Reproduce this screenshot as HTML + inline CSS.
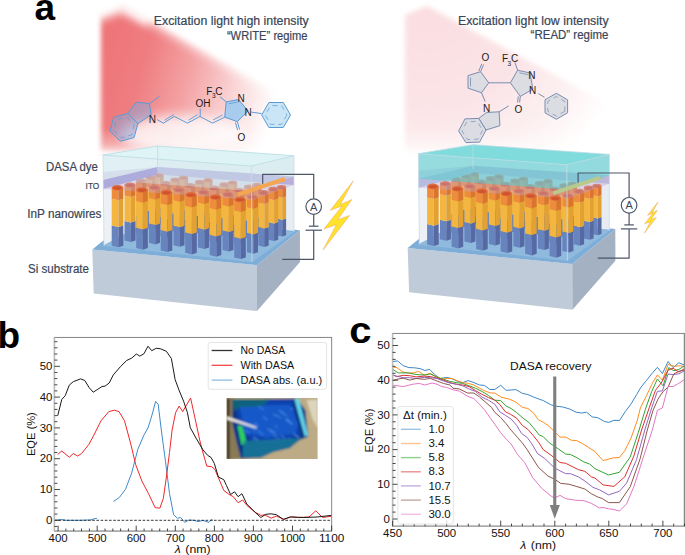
<!DOCTYPE html>
<html><head><meta charset="utf-8"><style>
html,body{margin:0;padding:0;background:#fff;width:685px;height:555px;overflow:hidden}
svg{display:block}
</style></head><body>
<svg width="685" height="555" viewBox="0 0 685 555">
<defs>
<linearGradient id="coneL" gradientUnits="userSpaceOnUse" x1="100" y1="0" x2="290" y2="57">
 <stop offset="0" stop-color="#ed7275"/>
 <stop offset="0.3" stop-color="#ef7d80"/>
 <stop offset="0.55" stop-color="#f4a4a6"/>
 <stop offset="0.8" stop-color="#fadadb"/>
 <stop offset="1" stop-color="#ffffff"/>
</linearGradient>
<radialGradient id="coneR" gradientUnits="userSpaceOnUse" cx="428" cy="0" r="220">
 <stop offset="0" stop-color="#fadde0"/>
 <stop offset="0.5" stop-color="#fbe4e7"/>
 <stop offset="0.75" stop-color="#fdf1f2"/>
 <stop offset="0.95" stop-color="#ffffff"/>
</radialGradient>
<linearGradient id="cmg" gradientUnits="userSpaceOnUse" x1="62.7" y1="139.2" x2="75.0" y2="166.5">
 <stop offset="0" stop-color="#fff"/>
 <stop offset="0.35" stop-color="#fff" stop-opacity="0.75"/>
 <stop offset="0.7" stop-color="#fff" stop-opacity="0.3"/>
 <stop offset="1" stop-color="#fff" stop-opacity="0"/>
</linearGradient>
<mask id="coneMask" maskUnits="userSpaceOnUse" x="0" y="0" width="685" height="200"><rect x="0" y="0" width="685" height="200" fill="url(#cmg)"/></mask>
<linearGradient id="cmgR" gradientUnits="userSpaceOnUse" x1="192.3" y1="139.2" x2="204.6" y2="166.5">
 <stop offset="0" stop-color="#fff"/>
 <stop offset="0.35" stop-color="#fff" stop-opacity="0.75"/>
 <stop offset="0.7" stop-color="#fff" stop-opacity="0.3"/>
 <stop offset="1" stop-color="#fff" stop-opacity="0"/>
</linearGradient>
<mask id="coneMaskR" maskUnits="userSpaceOnUse" x="0" y="0" width="685" height="200"><rect x="0" y="0" width="685" height="200" fill="url(#cmgR)"/></mask>
<filter id="blur6" filterUnits="userSpaceOnUse" x="0" y="0" width="685" height="220"><feGaussianBlur stdDeviation="6"/></filter>
<linearGradient id="bfade" x1="0" y1="0" x2="0" y2="1"><stop offset="0" stop-color="#fff" stop-opacity="0"/><stop offset="0.6" stop-color="#fff" stop-opacity="0.35"/><stop offset="1" stop-color="#fff" stop-opacity="0.8"/></linearGradient>
<filter id="blur4" filterUnits="userSpaceOnUse" x="0" y="-30" width="685" height="220"><feGaussianBlur stdDeviation="4"/></filter>
<filter id="pblur" x="-5%" y="-5%" width="110%" height="110%"><feGaussianBlur stdDeviation="0.8"/></filter>
<filter id="blur2" filterUnits="userSpaceOnUse" x="0" y="-30" width="685" height="220"><feGaussianBlur stdDeviation="2.5"/></filter>
<clipPath id="clipB"><rect x="54.4" y="337.6" width="277.3" height="193"/></clipPath>
<clipPath id="clipC"><rect x="392.6" y="333.4" width="291.8" height="192.5"/></clipPath>
</defs>
<rect width="685" height="555" fill="#fff"/>
<polygon points="101,15 124,6 310,112 305,152 101,152" fill="url(#coneL)" filter="url(#blur2)"/>
<ellipse cx="182" cy="134" rx="62" ry="19" fill="#fff" opacity="0.8" filter="url(#blur6)"/>
<polyline points="96,16 123,6 150,21" fill="none" stroke="#fff" stroke-width="12" opacity="0.85" filter="url(#blur4)"/>
<line x1="123" y1="6" x2="315" y2="115" stroke="#fff" stroke-width="8" opacity="0.6" filter="url(#blur4)"/>
<rect x="96" y="128" width="215" height="26" fill="url(#bfade)"/>
<polygon points="405,15 427,6 623,112 618,152 405,152" fill="url(#coneR)" filter="url(#blur2)"/>
<rect x="400" y="128" width="215" height="26" fill="url(#bfade)"/>
<polygon points="137.8,123.7 134.1,137.6 120.2,141.3 110.0,131.1 113.7,117.2 127.6,113.5" fill="#8fa3d2" fill-opacity="0.55" stroke="#5b9bd5" stroke-width="1"/>
<polygon points="134.3,124.6 131.5,135.0 121.1,137.8 113.5,130.2 116.3,119.8 126.7,117.0" fill="none" stroke="#5b9bd5" stroke-width="0.7" stroke-dasharray="5,4"/>
<polygon points="127.6,113.5 136.4,102.2 149.5,103.7 151.2,114.6 137.8,123.7" fill="#8fa3d2" fill-opacity="0.55" stroke="#5b9bd5" stroke-width="1"/>
<line x1="149.5" y1="103.7" x2="159.7" y2="96" stroke="#5b9bd5" stroke-width="1"/>
<polyline points="157,119.5 163.4,123.2 174.3,116.4 187.5,123.2 199.9,116.4 212.6,123.1 224.7,117.2" fill="none" stroke="#5b9bd5" stroke-width="1"/>
<line x1="164.5" y1="120.3" x2="173.6" y2="114.6" stroke="#5b9bd5" stroke-width="0.9"/>
<line x1="188.5" y1="120.3" x2="197.6" y2="114.6" stroke="#5b9bd5" stroke-width="0.9"/>
<line x1="213.0" y1="120.0" x2="222.5" y2="115.0" stroke="#5b9bd5" stroke-width="0.9"/>
<line x1="200.2" y1="116.4" x2="200.2" y2="108.5" stroke="#5b9bd5" stroke-width="1"/>
<polygon points="224.7,117.2 226.2,101.9 238.5,99.5 248.0,110.8 237.4,121.6" fill="#9fcaf0" fill-opacity="0.9" stroke="#5b9bd5" stroke-width="1"/>
<line x1="228.5" y1="103.8" x2="237.5" y2="102.0" stroke="#5b9bd5" stroke-width="0.8"/>
<line x1="226.2" y1="101.9" x2="219.9" y2="96.8" stroke="#5b9bd5" stroke-width="1"/>
<line x1="237.4" y1="121.6" x2="239.6" y2="129.5" stroke="#5b9bd5" stroke-width="1"/>
<line x1="235.4" y1="122.4" x2="237.6" y2="130.0" stroke="#5b9bd5" stroke-width="1"/>
<line x1="251.3" y1="112.1" x2="261.5" y2="113.6" stroke="#5b9bd5" stroke-width="1"/>
<polygon points="290.5,115.0 283.3,127.5 268.9,127.5 261.7,115.0 268.9,102.5 283.3,102.5" fill="#bfe0f5" fill-opacity="0.85" stroke="#5b9bd5" stroke-width="1"/>
<polygon points="286.9,115.0 281.5,124.4 270.7,124.4 265.3,115.0 270.7,105.6 281.5,105.6" fill="none" stroke="#5b9bd5" stroke-width="0.7" stroke-dasharray="5,4"/>
<text x="148.8" y="122.8" font-size="10" fill="#1a1a1a" font-family='"Liberation Sans", sans-serif'>N</text>
<text x="195.6" y="106.6" font-size="10" fill="#1a1a1a" font-family='"Liberation Sans", sans-serif'>OH</text>
<text x="206.3" y="94.6" font-size="10" fill="#1a1a1a" font-family='"Liberation Sans", sans-serif'>F</text>
<text x="211.9" y="98" font-size="6.5" fill="#1a1a1a" font-family='"Liberation Sans", sans-serif'>3</text>
<text x="215.3" y="94.6" font-size="10" fill="#1a1a1a" font-family='"Liberation Sans", sans-serif'>C</text>
<text x="237.4" y="101.5" font-size="10" fill="#1a1a1a" font-family='"Liberation Sans", sans-serif'>N</text>
<text x="244.6" y="115.8" font-size="10" fill="#1a1a1a" font-family='"Liberation Sans", sans-serif'>N</text>
<text x="237.5" y="140.8" font-size="10" fill="#1a1a1a" font-family='"Liberation Sans", sans-serif'>O</text>
<polygon points="480.6,71.7 468.0,75.6 468.0,88.2 481.5,92.7 488.7,82.8" fill="#dcdde3" stroke="#7a8db0" stroke-width="1"/>
<line x1="470.5" y1="77.5" x2="470.5" y2="86.5" stroke="#7a8db0" stroke-width="0.8"/>
<line x1="480.6" y1="71.7" x2="483.6" y2="64.5" stroke="#7a8db0" stroke-width="1"/>
<line x1="478.8" y1="71.0" x2="481.8" y2="63.8" stroke="#7a8db0" stroke-width="1"/>
<line x1="488.7" y1="82.8" x2="510.4" y2="82.8" stroke="#7a8db0" stroke-width="1"/>
<line x1="481.5" y1="92.7" x2="485.1" y2="101.5" stroke="#7a8db0" stroke-width="1"/>
<polygon points="510.4,82.8 517.6,70.2 530.0,73.0 532.9,89.1 520.3,96.4" fill="#dcdde3" stroke="#7a8db0" stroke-width="1"/>
<line x1="519.5" y1="72.8" x2="528.5" y2="74.8" stroke="#7a8db0" stroke-width="0.8"/>
<line x1="517.6" y1="70.2" x2="514.9" y2="62.5" stroke="#7a8db0" stroke-width="1"/>
<line x1="520.3" y1="96.4" x2="519.6" y2="102.5" stroke="#7a8db0" stroke-width="1"/>
<line x1="518.3" y1="96.4" x2="517.6" y2="102.5" stroke="#7a8db0" stroke-width="1"/>
<line x1="538.3" y1="93.6" x2="544.6" y2="97.3" stroke="#7a8db0" stroke-width="1"/>
<polygon points="567.6,112.8 556.3,119.3 545.0,112.8 545.0,99.8 556.3,93.3 567.6,99.8" fill="#dcdde3" stroke="#7a8db0" stroke-width="1"/>
<polygon points="564.8,111.2 556.3,116.1 547.8,111.2 547.8,101.4 556.3,96.5 564.8,101.4" fill="none" stroke="#7a8db0" stroke-width="0.7" stroke-dasharray="5,4"/>
<polygon points="486.5,112.5 499.1,111.8 499.9,125.7 486.0,130.0 478.7,118.4" fill="#dcdde3" stroke="#7a8db0" stroke-width="1"/>
<polygon points="486.0,130.0 479.6,142.1 465.9,142.6 458.6,131.0 465.0,118.9 478.7,118.4" fill="#dcdde3" stroke="#7a8db0" stroke-width="1"/>
<polygon points="482.6,130.1 477.8,139.2 467.5,139.6 462.0,130.9 466.8,121.8 477.1,121.4" fill="none" stroke="#7a8db0" stroke-width="0.7" stroke-dasharray="5,4"/>
<line x1="499.1" y1="111.8" x2="508.6" y2="106" stroke="#7a8db0" stroke-width="1"/>
<text x="481.6" y="61.3" font-size="10" fill="#1a1a1a" font-family='"Liberation Sans", sans-serif'>O</text>
<text x="502.0" y="62.0" font-size="10" fill="#1a1a1a" font-family='"Liberation Sans", sans-serif'>F</text>
<text x="507.6" y="65.5" font-size="6.5" fill="#1a1a1a" font-family='"Liberation Sans", sans-serif'>3</text>
<text x="511.0" y="62.0" font-size="10" fill="#1a1a1a" font-family='"Liberation Sans", sans-serif'>C</text>
<text x="528.2" y="78.5" font-size="10" fill="#1a1a1a" font-family='"Liberation Sans", sans-serif'>N</text>
<text x="529.0" y="93.5" font-size="10" fill="#1a1a1a" font-family='"Liberation Sans", sans-serif'>N</text>
<text x="514.5" y="112.5" font-size="10" fill="#1a1a1a" font-family='"Liberation Sans", sans-serif'>O</text>
<text x="483.0" y="112.0" font-size="10" fill="#1a1a1a" font-family='"Liberation Sans", sans-serif'>N</text>
<polygon points="92.3,249.4 256.9,265.2 257,311 93.7,293.6" fill="#bfcbd8"/>
<polygon points="256.9,265.2 299.9,230.2 300,262 257,311" fill="#a3b1c2"/>
<polygon points="92.3,249.4 136,214 299.9,230.2 256.9,265.2" fill="#7eaed8"/>
<polygon points="104,246 140,217 294,232 252,262" fill="#8fbade"/>
<polygon points="103,155 157.6,146 294,155.7 294,231 140,216 104,245" fill="#e6ecf2"/>
<polygon points="103,155 157.6,146 157.6,216 104,245" fill="#edf1f5"/>
<polygon points="157.6,167 294,176.5 294,185 157.6,174.5" fill="#a9a6da" opacity="0.85"/>
<g><polygon points="154.4,206.7 159.7,208.0 159.7,224.8 154.4,223.5" fill="#6884be"/><polygon points="159.7,208.0 163.6,206.7 163.6,223.5 159.7,224.8" fill="#5669a2"/><polygon points="154.4,184.6 159.7,185.9 159.7,208.0 154.4,206.7" fill="#f3b741"/><polygon points="159.7,185.9 163.6,184.6 163.6,206.7 159.7,208.0" fill="#e3a132"/><polygon points="154.4,175.5 159.7,176.8 159.7,185.9 154.4,184.6" fill="#ee8c3e"/><polygon points="159.7,176.8 163.6,175.5 163.6,184.6 159.7,185.9" fill="#d9752f"/><ellipse cx="159.0" cy="175.5" rx="4.6" ry="2.2" fill="#e36d3c"/><ellipse cx="159.0" cy="175.8" rx="3.3" ry="1.4" fill="#cf5530"/></g>
<g><polygon points="178.9,209.1 184.2,210.3 184.2,227.1 178.9,225.8" fill="#6884be"/><polygon points="184.2,210.3 188.1,209.1 188.1,225.8 184.2,227.1" fill="#5669a2"/><polygon points="178.9,187.0 184.2,188.3 184.2,210.3 178.9,209.1" fill="#f3b741"/><polygon points="184.2,188.3 188.1,187.0 188.1,209.1 184.2,210.3" fill="#e3a132"/><polygon points="178.9,177.8 184.2,179.1 184.2,188.3 178.9,187.0" fill="#ee8c3e"/><polygon points="184.2,179.1 188.1,177.8 188.1,187.0 184.2,188.3" fill="#d9752f"/><ellipse cx="183.5" cy="177.8" rx="4.6" ry="2.2" fill="#e36d3c"/><ellipse cx="183.5" cy="178.2" rx="3.3" ry="1.4" fill="#cf5530"/></g>
<g><polygon points="203.4,211.4 208.7,212.7 208.7,229.5 203.4,228.2" fill="#6884be"/><polygon points="208.7,212.7 212.6,211.4 212.6,228.2 208.7,229.5" fill="#5669a2"/><polygon points="203.4,189.3 208.7,190.6 208.7,212.7 203.4,211.4" fill="#f3b741"/><polygon points="208.7,190.6 212.6,189.3 212.6,211.4 208.7,212.7" fill="#e3a132"/><polygon points="203.4,180.2 208.7,181.5 208.7,190.6 203.4,189.3" fill="#ee8c3e"/><polygon points="208.7,181.5 212.6,180.2 212.6,189.3 208.7,190.6" fill="#d9752f"/><ellipse cx="208.0" cy="180.2" rx="4.6" ry="2.2" fill="#e36d3c"/><ellipse cx="208.0" cy="180.5" rx="3.3" ry="1.4" fill="#cf5530"/></g>
<g><polygon points="227.9,213.8 233.2,215.0 233.2,231.8 227.9,230.6" fill="#6884be"/><polygon points="233.2,215.0 237.1,213.8 237.1,230.6 233.2,231.8" fill="#5669a2"/><polygon points="227.9,191.7 233.2,193.0 233.2,215.0 227.9,213.8" fill="#f3b741"/><polygon points="233.2,193.0 237.1,191.7 237.1,213.8 233.2,215.0" fill="#e3a132"/><polygon points="227.9,182.6 233.2,183.8 233.2,193.0 227.9,191.7" fill="#ee8c3e"/><polygon points="233.2,183.8 237.1,182.6 237.1,191.7 233.2,193.0" fill="#d9752f"/><ellipse cx="232.5" cy="182.6" rx="4.6" ry="2.2" fill="#e36d3c"/><ellipse cx="232.5" cy="182.9" rx="3.3" ry="1.4" fill="#cf5530"/></g>
<g><polygon points="252.4,216.1 257.7,217.4 257.7,234.2 252.4,232.9" fill="#6884be"/><polygon points="257.7,217.4 261.6,216.1 261.6,232.9 257.7,234.2" fill="#5669a2"/><polygon points="252.4,194.0 257.7,195.3 257.7,217.4 252.4,216.1" fill="#f3b741"/><polygon points="257.7,195.3 261.6,194.0 261.6,216.1 257.7,217.4" fill="#e3a132"/><polygon points="252.4,184.9 257.7,186.2 257.7,195.3 252.4,194.0" fill="#ee8c3e"/><polygon points="257.7,186.2 261.6,184.9 261.6,194.0 257.7,195.3" fill="#d9752f"/><ellipse cx="257.0" cy="184.9" rx="4.6" ry="2.2" fill="#e36d3c"/><ellipse cx="257.0" cy="185.2" rx="3.3" ry="1.4" fill="#cf5530"/></g>
<g><polygon points="276.9,218.4 282.2,219.7 282.2,236.5 276.9,235.2" fill="#6884be"/><polygon points="282.2,219.7 286.1,218.4 286.1,235.2 282.2,236.5" fill="#5669a2"/><polygon points="276.9,196.4 282.2,197.7 282.2,219.7 276.9,218.4" fill="#f3b741"/><polygon points="282.2,197.7 286.1,196.4 286.1,218.4 282.2,219.7" fill="#e3a132"/><polygon points="276.9,187.2 282.2,188.5 282.2,197.7 276.9,196.4" fill="#ee8c3e"/><polygon points="282.2,188.5 286.1,187.2 286.1,196.4 282.2,197.7" fill="#d9752f"/><ellipse cx="281.5" cy="187.2" rx="4.6" ry="2.2" fill="#e36d3c"/><ellipse cx="281.5" cy="187.6" rx="3.3" ry="1.4" fill="#cf5530"/></g>
<g><polygon points="145.9,210.3 151.6,211.7 151.6,229.4 145.9,228.0" fill="#6884be"/><polygon points="151.6,211.7 155.7,210.3 155.7,228.0 151.6,229.4" fill="#5669a2"/><polygon points="145.9,187.1 151.6,188.5 151.6,211.7 145.9,210.3" fill="#f3b741"/><polygon points="151.6,188.5 155.7,187.1 155.7,210.3 151.6,211.7" fill="#e3a132"/><polygon points="145.9,177.5 151.6,178.9 151.6,188.5 145.9,187.1" fill="#ee8c3e"/><polygon points="151.6,178.9 155.7,177.5 155.7,187.1 151.6,188.5" fill="#d9752f"/><ellipse cx="150.8" cy="177.5" rx="4.9" ry="2.4" fill="#e36d3c"/><ellipse cx="150.8" cy="177.8" rx="3.5" ry="1.5" fill="#cf5530"/></g>
<g><polygon points="170.4,212.7 176.1,214.0 176.1,231.7 170.4,230.3" fill="#6884be"/><polygon points="176.1,214.0 180.2,212.7 180.2,230.3 176.1,231.7" fill="#5669a2"/><polygon points="170.4,189.4 176.1,190.8 176.1,214.0 170.4,212.7" fill="#f3b741"/><polygon points="176.1,190.8 180.2,189.4 180.2,212.7 176.1,214.0" fill="#e3a132"/><polygon points="170.4,179.8 176.1,181.2 176.1,190.8 170.4,189.4" fill="#ee8c3e"/><polygon points="176.1,181.2 180.2,179.8 180.2,189.4 176.1,190.8" fill="#d9752f"/><ellipse cx="175.3" cy="179.8" rx="4.9" ry="2.4" fill="#e36d3c"/><ellipse cx="175.3" cy="180.2" rx="3.5" ry="1.5" fill="#cf5530"/></g>
<g><polygon points="194.9,215.0 200.6,216.4 200.6,234.1 194.9,232.7" fill="#6884be"/><polygon points="200.6,216.4 204.7,215.0 204.7,232.7 200.6,234.1" fill="#5669a2"/><polygon points="194.9,191.8 200.6,193.2 200.6,216.4 194.9,215.0" fill="#f3b741"/><polygon points="200.6,193.2 204.7,191.8 204.7,215.0 200.6,216.4" fill="#e3a132"/><polygon points="194.9,182.2 200.6,183.6 200.6,193.2 194.9,191.8" fill="#ee8c3e"/><polygon points="200.6,183.6 204.7,182.2 204.7,191.8 200.6,193.2" fill="#d9752f"/><ellipse cx="199.8" cy="182.2" rx="4.9" ry="2.4" fill="#e36d3c"/><ellipse cx="199.8" cy="182.5" rx="3.5" ry="1.5" fill="#cf5530"/></g>
<g><polygon points="219.4,217.4 225.1,218.7 225.1,236.4 219.4,235.1" fill="#6884be"/><polygon points="225.1,218.7 229.2,217.4 229.2,235.1 225.1,236.4" fill="#5669a2"/><polygon points="219.4,194.1 225.1,195.5 225.1,218.7 219.4,217.4" fill="#f3b741"/><polygon points="225.1,195.5 229.2,194.1 229.2,217.4 225.1,218.7" fill="#e3a132"/><polygon points="219.4,184.6 225.1,185.9 225.1,195.5 219.4,194.1" fill="#ee8c3e"/><polygon points="225.1,185.9 229.2,184.6 229.2,194.1 225.1,195.5" fill="#d9752f"/><ellipse cx="224.3" cy="184.6" rx="4.9" ry="2.4" fill="#e36d3c"/><ellipse cx="224.3" cy="184.9" rx="3.5" ry="1.5" fill="#cf5530"/></g>
<g><polygon points="243.9,219.7 249.6,221.1 249.6,238.8 243.9,237.4" fill="#6884be"/><polygon points="249.6,221.1 253.7,219.7 253.7,237.4 249.6,238.8" fill="#5669a2"/><polygon points="243.9,196.5 249.6,197.9 249.6,221.1 243.9,219.7" fill="#f3b741"/><polygon points="249.6,197.9 253.7,196.5 253.7,219.7 249.6,221.1" fill="#e3a132"/><polygon points="243.9,186.9 249.6,188.3 249.6,197.9 243.9,196.5" fill="#ee8c3e"/><polygon points="249.6,188.3 253.7,186.9 253.7,196.5 249.6,197.9" fill="#d9752f"/><ellipse cx="248.8" cy="186.9" rx="4.9" ry="2.4" fill="#e36d3c"/><ellipse cx="248.8" cy="187.2" rx="3.5" ry="1.5" fill="#cf5530"/></g>
<g><polygon points="268.4,222.1 274.1,223.4 274.1,241.1 268.4,239.8" fill="#6884be"/><polygon points="274.1,223.4 278.2,222.1 278.2,239.8 274.1,241.1" fill="#5669a2"/><polygon points="268.4,198.8 274.1,200.2 274.1,223.4 268.4,222.1" fill="#f3b741"/><polygon points="274.1,200.2 278.2,198.8 278.2,222.1 274.1,223.4" fill="#e3a132"/><polygon points="268.4,189.2 274.1,190.6 274.1,200.2 268.4,198.8" fill="#ee8c3e"/><polygon points="274.1,190.6 278.2,189.2 278.2,198.8 274.1,200.2" fill="#d9752f"/><ellipse cx="273.3" cy="189.2" rx="4.9" ry="2.4" fill="#e36d3c"/><ellipse cx="273.3" cy="189.6" rx="3.5" ry="1.5" fill="#cf5530"/></g>
<g><polygon points="135.8,215.2 141.8,216.7 141.8,235.3 135.8,233.8" fill="#6884be"/><polygon points="141.8,216.7 146.2,215.2 146.2,233.8 141.8,235.3" fill="#5669a2"/><polygon points="135.8,190.9 141.8,192.3 141.8,216.7 135.8,215.2" fill="#f3b741"/><polygon points="141.8,192.3 146.2,190.9 146.2,215.2 141.8,216.7" fill="#e3a132"/><polygon points="135.8,180.8 141.8,182.3 141.8,192.3 135.8,190.9" fill="#ee8c3e"/><polygon points="141.8,182.3 146.2,180.8 146.2,190.9 141.8,192.3" fill="#d9752f"/><ellipse cx="141.0" cy="180.8" rx="5.2" ry="2.5" fill="#e36d3c"/><ellipse cx="141.0" cy="181.1" rx="3.7" ry="1.6" fill="#cf5530"/></g>
<g><polygon points="160.3,217.6 166.3,219.1 166.3,237.6 160.3,236.2" fill="#6884be"/><polygon points="166.3,219.1 170.7,217.6 170.7,236.2 166.3,237.6" fill="#5669a2"/><polygon points="160.3,193.2 166.3,194.7 166.3,219.1 160.3,217.6" fill="#f3b741"/><polygon points="166.3,194.7 170.7,193.2 170.7,217.6 166.3,219.1" fill="#e3a132"/><polygon points="160.3,183.2 166.3,184.6 166.3,194.7 160.3,193.2" fill="#ee8c3e"/><polygon points="166.3,184.6 170.7,183.2 170.7,193.2 166.3,194.7" fill="#d9752f"/><ellipse cx="165.5" cy="183.2" rx="5.2" ry="2.5" fill="#e36d3c"/><ellipse cx="165.5" cy="183.5" rx="3.7" ry="1.6" fill="#cf5530"/></g>
<g><polygon points="184.8,219.9 190.8,221.4 190.8,240.0 184.8,238.5" fill="#6884be"/><polygon points="190.8,221.4 195.2,219.9 195.2,238.5 190.8,240.0" fill="#5669a2"/><polygon points="184.8,195.6 190.8,197.0 190.8,221.4 184.8,219.9" fill="#f3b741"/><polygon points="190.8,197.0 195.2,195.6 195.2,219.9 190.8,221.4" fill="#e3a132"/><polygon points="184.8,185.5 190.8,187.0 190.8,197.0 184.8,195.6" fill="#ee8c3e"/><polygon points="190.8,187.0 195.2,185.5 195.2,195.6 190.8,197.0" fill="#d9752f"/><ellipse cx="190.0" cy="185.5" rx="5.2" ry="2.5" fill="#e36d3c"/><ellipse cx="190.0" cy="185.8" rx="3.7" ry="1.6" fill="#cf5530"/></g>
<g><polygon points="209.3,222.3 215.3,223.8 215.3,242.3 209.3,240.9" fill="#6884be"/><polygon points="215.3,223.8 219.7,222.3 219.7,240.9 215.3,242.3" fill="#5669a2"/><polygon points="209.3,197.9 215.3,199.4 215.3,223.8 209.3,222.3" fill="#f3b741"/><polygon points="215.3,199.4 219.7,197.9 219.7,222.3 215.3,223.8" fill="#e3a132"/><polygon points="209.3,187.9 215.3,189.3 215.3,199.4 209.3,197.9" fill="#ee8c3e"/><polygon points="215.3,189.3 219.7,187.9 219.7,197.9 215.3,199.4" fill="#d9752f"/><ellipse cx="214.5" cy="187.9" rx="5.2" ry="2.5" fill="#e36d3c"/><ellipse cx="214.5" cy="188.2" rx="3.7" ry="1.6" fill="#cf5530"/></g>
<g><polygon points="233.8,224.7 239.8,226.1 239.8,244.7 233.8,243.2" fill="#6884be"/><polygon points="239.8,226.1 244.2,224.7 244.2,243.2 239.8,244.7" fill="#5669a2"/><polygon points="233.8,200.3 239.8,201.7 239.8,226.1 233.8,224.7" fill="#f3b741"/><polygon points="239.8,201.7 244.2,200.3 244.2,224.7 239.8,226.1" fill="#e3a132"/><polygon points="233.8,190.2 239.8,191.7 239.8,201.7 233.8,200.3" fill="#ee8c3e"/><polygon points="239.8,191.7 244.2,190.2 244.2,200.3 239.8,201.7" fill="#d9752f"/><ellipse cx="239.0" cy="190.2" rx="5.2" ry="2.5" fill="#e36d3c"/><ellipse cx="239.0" cy="190.5" rx="3.7" ry="1.6" fill="#cf5530"/></g>
<g><polygon points="258.3,227.0 264.3,228.5 264.3,247.0 258.3,245.6" fill="#6884be"/><polygon points="264.3,228.5 268.7,227.0 268.7,245.6 264.3,247.0" fill="#5669a2"/><polygon points="258.3,202.6 264.3,204.1 264.3,228.5 258.3,227.0" fill="#f3b741"/><polygon points="264.3,204.1 268.7,202.6 268.7,227.0 264.3,228.5" fill="#e3a132"/><polygon points="258.3,192.6 264.3,194.0 264.3,204.1 258.3,202.6" fill="#ee8c3e"/><polygon points="264.3,194.0 268.7,192.6 268.7,202.6 264.3,204.1" fill="#d9752f"/><ellipse cx="263.5" cy="192.6" rx="5.2" ry="2.5" fill="#e36d3c"/><ellipse cx="263.5" cy="192.9" rx="3.7" ry="1.6" fill="#cf5530"/></g>
<g><polygon points="124.5,221.1 130.9,222.6 130.9,242.0 124.5,240.5" fill="#6884be"/><polygon points="130.9,222.6 135.5,221.1 135.5,240.5 130.9,242.0" fill="#5669a2"/><polygon points="124.5,195.5 130.9,197.1 130.9,222.6 124.5,221.1" fill="#f3b741"/><polygon points="130.9,197.1 135.5,195.5 135.5,221.1 130.9,222.6" fill="#e3a132"/><polygon points="124.5,185.0 130.9,186.5 130.9,197.1 124.5,195.5" fill="#ee8c3e"/><polygon points="130.9,186.5 135.5,185.0 135.5,195.5 130.9,197.1" fill="#d9752f"/><ellipse cx="130.0" cy="185.0" rx="5.5" ry="2.6" fill="#e36d3c"/><ellipse cx="130.0" cy="185.3" rx="4.0" ry="1.6" fill="#cf5530"/></g>
<g><polygon points="149.0,223.4 155.4,225.0 155.4,244.4 149.0,242.8" fill="#6884be"/><polygon points="155.4,225.0 160.0,223.4 160.0,242.8 155.4,244.4" fill="#5669a2"/><polygon points="149.0,197.9 155.4,199.4 155.4,225.0 149.0,223.4" fill="#f3b741"/><polygon points="155.4,199.4 160.0,197.9 160.0,223.4 155.4,225.0" fill="#e3a132"/><polygon points="149.0,187.3 155.4,188.9 155.4,199.4 149.0,197.9" fill="#ee8c3e"/><polygon points="155.4,188.9 160.0,187.3 160.0,197.9 155.4,199.4" fill="#d9752f"/><ellipse cx="154.5" cy="187.3" rx="5.5" ry="2.6" fill="#e36d3c"/><ellipse cx="154.5" cy="187.7" rx="4.0" ry="1.6" fill="#cf5530"/></g>
<g><polygon points="173.5,225.8 179.9,227.3 179.9,246.7 173.5,245.2" fill="#6884be"/><polygon points="179.9,227.3 184.5,225.8 184.5,245.2 179.9,246.7" fill="#5669a2"/><polygon points="173.5,200.2 179.9,201.8 179.9,227.3 173.5,225.8" fill="#f3b741"/><polygon points="179.9,201.8 184.5,200.2 184.5,225.8 179.9,227.3" fill="#e3a132"/><polygon points="173.5,189.7 179.9,191.2 179.9,201.8 173.5,200.2" fill="#ee8c3e"/><polygon points="179.9,191.2 184.5,189.7 184.5,200.2 179.9,201.8" fill="#d9752f"/><ellipse cx="179.0" cy="189.7" rx="5.5" ry="2.6" fill="#e36d3c"/><ellipse cx="179.0" cy="190.0" rx="4.0" ry="1.6" fill="#cf5530"/></g>
<g><polygon points="198.0,228.1 204.4,229.7 204.4,249.1 198.0,247.6" fill="#6884be"/><polygon points="204.4,229.7 209.0,228.1 209.0,247.6 204.4,249.1" fill="#5669a2"/><polygon points="198.0,202.6 204.4,204.1 204.4,229.7 198.0,228.1" fill="#f3b741"/><polygon points="204.4,204.1 209.0,202.6 209.0,228.1 204.4,229.7" fill="#e3a132"/><polygon points="198.0,192.1 204.4,193.6 204.4,204.1 198.0,202.6" fill="#ee8c3e"/><polygon points="204.4,193.6 209.0,192.1 209.0,202.6 204.4,204.1" fill="#d9752f"/><ellipse cx="203.5" cy="192.1" rx="5.5" ry="2.6" fill="#e36d3c"/><ellipse cx="203.5" cy="192.4" rx="4.0" ry="1.6" fill="#cf5530"/></g>
<g><polygon points="222.5,230.5 228.9,232.0 228.9,251.4 222.5,249.9" fill="#6884be"/><polygon points="228.9,232.0 233.5,230.5 233.5,249.9 228.9,251.4" fill="#5669a2"/><polygon points="222.5,204.9 228.9,206.5 228.9,232.0 222.5,230.5" fill="#f3b741"/><polygon points="228.9,206.5 233.5,204.9 233.5,230.5 228.9,232.0" fill="#e3a132"/><polygon points="222.5,194.4 228.9,195.9 228.9,206.5 222.5,204.9" fill="#ee8c3e"/><polygon points="228.9,195.9 233.5,194.4 233.5,204.9 228.9,206.5" fill="#d9752f"/><ellipse cx="228.0" cy="194.4" rx="5.5" ry="2.6" fill="#e36d3c"/><ellipse cx="228.0" cy="194.7" rx="4.0" ry="1.6" fill="#cf5530"/></g>
<g><polygon points="247.0,232.8 253.4,234.4 253.4,253.8 247.0,252.2" fill="#6884be"/><polygon points="253.4,234.4 258.0,232.8 258.0,252.2 253.4,253.8" fill="#5669a2"/><polygon points="247.0,207.3 253.4,208.8 253.4,234.4 247.0,232.8" fill="#f3b741"/><polygon points="253.4,208.8 258.0,207.3 258.0,232.8 253.4,234.4" fill="#e3a132"/><polygon points="247.0,196.8 253.4,198.3 253.4,208.8 247.0,207.3" fill="#ee8c3e"/><polygon points="253.4,198.3 258.0,196.8 258.0,207.3 253.4,208.8" fill="#d9752f"/><ellipse cx="252.5" cy="196.8" rx="5.5" ry="2.6" fill="#e36d3c"/><ellipse cx="252.5" cy="197.1" rx="4.0" ry="1.6" fill="#cf5530"/></g>
<polygon points="103,172 157.6,167 294,176.5 294,185 252,200 103,189" fill="#c2a8d2" opacity="0.38"/>
<polygon points="103,155 251.4,166 252,191 103,180" fill="#cdf0f3" opacity="0.4"/>
<polygon points="251.4,166 294,155.7 294,176.5 252,191" fill="#cdf0f3" opacity="0.4"/>
<polygon points="103,180 157.6,167 157.6,174.5 103,189" fill="#a9a6da" opacity="0.9"/>
<g><polygon points="111.7,225.4 118.4,227.0 118.4,247.3 111.7,245.7" fill="#6884be"/><polygon points="118.4,227.0 123.3,225.4 123.3,245.7 118.4,247.3" fill="#5669a2"/><polygon points="111.7,198.7 118.4,200.3 118.4,227.0 111.7,225.4" fill="#f3b741"/><polygon points="118.4,200.3 123.3,198.7 123.3,225.4 118.4,227.0" fill="#e3a132"/><polygon points="111.7,187.7 118.4,189.3 118.4,200.3 111.7,198.7" fill="#ee8c3e"/><polygon points="118.4,189.3 123.3,187.7 123.3,198.7 118.4,200.3" fill="#d9752f"/><ellipse cx="117.5" cy="187.7" rx="5.8" ry="2.8" fill="#e36d3c"/><ellipse cx="117.5" cy="188.0" rx="4.2" ry="1.7" fill="#cf5530"/></g>
<g><polygon points="136.2,227.8 142.9,229.4 142.9,249.7 136.2,248.0" fill="#6884be"/><polygon points="142.9,229.4 147.8,227.8 147.8,248.0 142.9,249.7" fill="#5669a2"/><polygon points="136.2,201.1 142.9,202.7 142.9,229.4 136.2,227.8" fill="#f3b741"/><polygon points="142.9,202.7 147.8,201.1 147.8,227.8 142.9,229.4" fill="#e3a132"/><polygon points="136.2,190.0 142.9,191.7 142.9,202.7 136.2,201.1" fill="#ee8c3e"/><polygon points="142.9,191.7 147.8,190.0 147.8,201.1 142.9,202.7" fill="#d9752f"/><ellipse cx="142.0" cy="190.0" rx="5.8" ry="2.8" fill="#e36d3c"/><ellipse cx="142.0" cy="190.3" rx="4.2" ry="1.7" fill="#cf5530"/></g>
<g><polygon points="160.7,230.1 167.4,231.7 167.4,252.0 160.7,250.4" fill="#6884be"/><polygon points="167.4,231.7 172.3,230.1 172.3,250.4 167.4,252.0" fill="#5669a2"/><polygon points="160.7,203.4 167.4,205.0 167.4,231.7 160.7,230.1" fill="#f3b741"/><polygon points="167.4,205.0 172.3,203.4 172.3,230.1 167.4,231.7" fill="#e3a132"/><polygon points="160.7,192.4 167.4,194.0 167.4,205.0 160.7,203.4" fill="#ee8c3e"/><polygon points="167.4,194.0 172.3,192.4 172.3,203.4 167.4,205.0" fill="#d9752f"/><ellipse cx="166.5" cy="192.4" rx="5.8" ry="2.8" fill="#e36d3c"/><ellipse cx="166.5" cy="192.7" rx="4.2" ry="1.7" fill="#cf5530"/></g>
<g><polygon points="185.2,232.4 191.9,234.1 191.9,254.4 185.2,252.8" fill="#6884be"/><polygon points="191.9,234.1 196.8,232.4 196.8,252.8 191.9,254.4" fill="#5669a2"/><polygon points="185.2,205.8 191.9,207.4 191.9,234.1 185.2,232.4" fill="#f3b741"/><polygon points="191.9,207.4 196.8,205.8 196.8,232.4 191.9,234.1" fill="#e3a132"/><polygon points="185.2,194.8 191.9,196.4 191.9,207.4 185.2,205.8" fill="#ee8c3e"/><polygon points="191.9,196.4 196.8,194.8 196.8,205.8 191.9,207.4" fill="#d9752f"/><ellipse cx="191.0" cy="194.8" rx="5.8" ry="2.8" fill="#e36d3c"/><ellipse cx="191.0" cy="195.1" rx="4.2" ry="1.7" fill="#cf5530"/></g>
<g><polygon points="209.7,234.8 216.4,236.4 216.4,256.7 209.7,255.1" fill="#6884be"/><polygon points="216.4,236.4 221.3,234.8 221.3,255.1 216.4,256.7" fill="#5669a2"/><polygon points="209.7,208.1 216.4,209.7 216.4,236.4 209.7,234.8" fill="#f3b741"/><polygon points="216.4,209.7 221.3,208.1 221.3,234.8 216.4,236.4" fill="#e3a132"/><polygon points="209.7,197.1 216.4,198.7 216.4,209.7 209.7,208.1" fill="#ee8c3e"/><polygon points="216.4,198.7 221.3,197.1 221.3,208.1 216.4,209.7" fill="#d9752f"/><ellipse cx="215.5" cy="197.1" rx="5.8" ry="2.8" fill="#e36d3c"/><ellipse cx="215.5" cy="197.4" rx="4.2" ry="1.7" fill="#cf5530"/></g>
<g><polygon points="234.2,237.1 240.9,238.8 240.9,259.1 234.2,257.4" fill="#6884be"/><polygon points="240.9,238.8 245.8,237.1 245.8,257.4 240.9,259.1" fill="#5669a2"/><polygon points="234.2,210.5 240.9,212.1 240.9,238.8 234.2,237.1" fill="#f3b741"/><polygon points="240.9,212.1 245.8,210.5 245.8,237.1 240.9,238.8" fill="#e3a132"/><polygon points="234.2,199.4 240.9,201.1 240.9,212.1 234.2,210.5" fill="#ee8c3e"/><polygon points="240.9,201.1 245.8,199.4 245.8,210.5 240.9,212.1" fill="#d9752f"/><ellipse cx="240.0" cy="199.4" rx="5.8" ry="2.8" fill="#e36d3c"/><ellipse cx="240.0" cy="199.8" rx="4.2" ry="1.7" fill="#cf5530"/></g>
<polygon points="103,155 157.6,146 294,155.7 251.4,166" fill="#dcf4f6" opacity="0.9"/>
<polyline points="103,155 157.6,146 294,155.7 251.4,166 103,155" fill="none" stroke="#b9dce3" stroke-width="0.8"/>
<line x1="157.6" y1="146" x2="157.6" y2="170" stroke="#b9dce3" stroke-width="0.8"/>
<line x1="251.4" y1="166" x2="252" y2="262" stroke="#c8dde6" stroke-width="0.8"/>
<line x1="103" y1="155" x2="104" y2="246" stroke="#c8dde6" stroke-width="0.8"/>
<line x1="294" y1="155.7" x2="294" y2="232" stroke="#c8dde6" stroke-width="0.8"/>
<line x1="238" y1="194.5" x2="285" y2="179" stroke="#f4a650" stroke-width="4" stroke-linecap="butt"/>
<polyline points="262.7,184 262.7,174.3 313.7,174.3 313.7,198.8" fill="none" stroke="#4d5566" stroke-width="1.2"/>
<circle cx="313.7" cy="206.6" r="7.8" fill="#fff" stroke="#4d5566" stroke-width="1.2"/>
<text x="313.7" y="210.6" font-size="11" text-anchor="middle" fill="#3d4759" font-family='"Liberation Sans", sans-serif'>A</text>
<line x1="313.7" y1="214.4" x2="313.7" y2="226.2" stroke="#4d5566" stroke-width="1.2"/>
<line x1="308.9" y1="226.2" x2="318.5" y2="226.2" stroke="#4d5566" stroke-width="1.2"/>
<line x1="305.5" y1="230.2" x2="321.9" y2="230.2" stroke="#4d5566" stroke-width="1.2"/>
<polyline points="313.7,230.2 313.7,259.4 282.3,259.4" fill="none" stroke="#4d5566" stroke-width="1.2"/>
<g transform="translate(-0.6,-1.3)"><polygon points="408.3,249.4 572.9,265.2 573,311 409.7,293.6" fill="#bfcbd8"/>
<polygon points="572.9,265.2 615.9,230.2 616,262 573,311" fill="#a3b1c2"/>
<polygon points="408.3,249.4 452,214 615.9,230.2 572.9,265.2" fill="#7eaed8"/>
<polygon points="420,246 456,217 610,232 568,262" fill="#8fbade"/>
<polygon points="419,155 473.6,146 610,155.7 610,231 456,216 420,245" fill="#e6ecf2"/>
<polygon points="419,155 473.6,146 473.6,216 420,245" fill="#edf1f5"/>
<polygon points="473.6,167 610,176.5 610,185 473.6,174.5" fill="#b3b8dd" opacity="0.85"/>
<g><polygon points="470.4,206.7 475.7,208.0 475.7,224.8 470.4,223.5" fill="#6884be"/><polygon points="475.7,208.0 479.6,206.7 479.6,223.5 475.7,224.8" fill="#5669a2"/><polygon points="470.4,184.6 475.7,185.9 475.7,208.0 470.4,206.7" fill="#f3b741"/><polygon points="475.7,185.9 479.6,184.6 479.6,206.7 475.7,208.0" fill="#e3a132"/><polygon points="470.4,175.5 475.7,176.8 475.7,185.9 470.4,184.6" fill="#ee8c3e"/><polygon points="475.7,176.8 479.6,175.5 479.6,184.6 475.7,185.9" fill="#d9752f"/><ellipse cx="475.0" cy="175.5" rx="4.6" ry="2.2" fill="#e36d3c"/><ellipse cx="475.0" cy="175.8" rx="3.3" ry="1.4" fill="#cf5530"/></g>
<g><polygon points="494.9,209.1 500.2,210.3 500.2,227.1 494.9,225.8" fill="#6884be"/><polygon points="500.2,210.3 504.1,209.1 504.1,225.8 500.2,227.1" fill="#5669a2"/><polygon points="494.9,187.0 500.2,188.3 500.2,210.3 494.9,209.1" fill="#f3b741"/><polygon points="500.2,188.3 504.1,187.0 504.1,209.1 500.2,210.3" fill="#e3a132"/><polygon points="494.9,177.8 500.2,179.1 500.2,188.3 494.9,187.0" fill="#ee8c3e"/><polygon points="500.2,179.1 504.1,177.8 504.1,187.0 500.2,188.3" fill="#d9752f"/><ellipse cx="499.5" cy="177.8" rx="4.6" ry="2.2" fill="#e36d3c"/><ellipse cx="499.5" cy="178.2" rx="3.3" ry="1.4" fill="#cf5530"/></g>
<g><polygon points="519.4,211.4 524.7,212.7 524.7,229.5 519.4,228.2" fill="#6884be"/><polygon points="524.7,212.7 528.6,211.4 528.6,228.2 524.7,229.5" fill="#5669a2"/><polygon points="519.4,189.3 524.7,190.6 524.7,212.7 519.4,211.4" fill="#f3b741"/><polygon points="524.7,190.6 528.6,189.3 528.6,211.4 524.7,212.7" fill="#e3a132"/><polygon points="519.4,180.2 524.7,181.5 524.7,190.6 519.4,189.3" fill="#ee8c3e"/><polygon points="524.7,181.5 528.6,180.2 528.6,189.3 524.7,190.6" fill="#d9752f"/><ellipse cx="524.0" cy="180.2" rx="4.6" ry="2.2" fill="#e36d3c"/><ellipse cx="524.0" cy="180.5" rx="3.3" ry="1.4" fill="#cf5530"/></g>
<g><polygon points="543.9,213.8 549.2,215.0 549.2,231.8 543.9,230.6" fill="#6884be"/><polygon points="549.2,215.0 553.1,213.8 553.1,230.6 549.2,231.8" fill="#5669a2"/><polygon points="543.9,191.7 549.2,193.0 549.2,215.0 543.9,213.8" fill="#f3b741"/><polygon points="549.2,193.0 553.1,191.7 553.1,213.8 549.2,215.0" fill="#e3a132"/><polygon points="543.9,182.6 549.2,183.8 549.2,193.0 543.9,191.7" fill="#ee8c3e"/><polygon points="549.2,183.8 553.1,182.6 553.1,191.7 549.2,193.0" fill="#d9752f"/><ellipse cx="548.5" cy="182.6" rx="4.6" ry="2.2" fill="#e36d3c"/><ellipse cx="548.5" cy="182.9" rx="3.3" ry="1.4" fill="#cf5530"/></g>
<g><polygon points="568.4,216.1 573.7,217.4 573.7,234.2 568.4,232.9" fill="#6884be"/><polygon points="573.7,217.4 577.6,216.1 577.6,232.9 573.7,234.2" fill="#5669a2"/><polygon points="568.4,194.0 573.7,195.3 573.7,217.4 568.4,216.1" fill="#f3b741"/><polygon points="573.7,195.3 577.6,194.0 577.6,216.1 573.7,217.4" fill="#e3a132"/><polygon points="568.4,184.9 573.7,186.2 573.7,195.3 568.4,194.0" fill="#ee8c3e"/><polygon points="573.7,186.2 577.6,184.9 577.6,194.0 573.7,195.3" fill="#d9752f"/><ellipse cx="573.0" cy="184.9" rx="4.6" ry="2.2" fill="#e36d3c"/><ellipse cx="573.0" cy="185.2" rx="3.3" ry="1.4" fill="#cf5530"/></g>
<g><polygon points="592.9,218.4 598.2,219.7 598.2,236.5 592.9,235.2" fill="#6884be"/><polygon points="598.2,219.7 602.1,218.4 602.1,235.2 598.2,236.5" fill="#5669a2"/><polygon points="592.9,196.4 598.2,197.7 598.2,219.7 592.9,218.4" fill="#f3b741"/><polygon points="598.2,197.7 602.1,196.4 602.1,218.4 598.2,219.7" fill="#e3a132"/><polygon points="592.9,187.2 598.2,188.5 598.2,197.7 592.9,196.4" fill="#ee8c3e"/><polygon points="598.2,188.5 602.1,187.2 602.1,196.4 598.2,197.7" fill="#d9752f"/><ellipse cx="597.5" cy="187.2" rx="4.6" ry="2.2" fill="#e36d3c"/><ellipse cx="597.5" cy="187.6" rx="3.3" ry="1.4" fill="#cf5530"/></g>
<g><polygon points="461.9,210.3 467.6,211.7 467.6,229.4 461.9,228.0" fill="#6884be"/><polygon points="467.6,211.7 471.7,210.3 471.7,228.0 467.6,229.4" fill="#5669a2"/><polygon points="461.9,187.1 467.6,188.5 467.6,211.7 461.9,210.3" fill="#f3b741"/><polygon points="467.6,188.5 471.7,187.1 471.7,210.3 467.6,211.7" fill="#e3a132"/><polygon points="461.9,177.5 467.6,178.9 467.6,188.5 461.9,187.1" fill="#ee8c3e"/><polygon points="467.6,178.9 471.7,177.5 471.7,187.1 467.6,188.5" fill="#d9752f"/><ellipse cx="466.8" cy="177.5" rx="4.9" ry="2.4" fill="#e36d3c"/><ellipse cx="466.8" cy="177.8" rx="3.5" ry="1.5" fill="#cf5530"/></g>
<g><polygon points="486.4,212.7 492.1,214.0 492.1,231.7 486.4,230.3" fill="#6884be"/><polygon points="492.1,214.0 496.2,212.7 496.2,230.3 492.1,231.7" fill="#5669a2"/><polygon points="486.4,189.4 492.1,190.8 492.1,214.0 486.4,212.7" fill="#f3b741"/><polygon points="492.1,190.8 496.2,189.4 496.2,212.7 492.1,214.0" fill="#e3a132"/><polygon points="486.4,179.8 492.1,181.2 492.1,190.8 486.4,189.4" fill="#ee8c3e"/><polygon points="492.1,181.2 496.2,179.8 496.2,189.4 492.1,190.8" fill="#d9752f"/><ellipse cx="491.3" cy="179.8" rx="4.9" ry="2.4" fill="#e36d3c"/><ellipse cx="491.3" cy="180.2" rx="3.5" ry="1.5" fill="#cf5530"/></g>
<g><polygon points="510.9,215.0 516.6,216.4 516.6,234.1 510.9,232.7" fill="#6884be"/><polygon points="516.6,216.4 520.7,215.0 520.7,232.7 516.6,234.1" fill="#5669a2"/><polygon points="510.9,191.8 516.6,193.2 516.6,216.4 510.9,215.0" fill="#f3b741"/><polygon points="516.6,193.2 520.7,191.8 520.7,215.0 516.6,216.4" fill="#e3a132"/><polygon points="510.9,182.2 516.6,183.6 516.6,193.2 510.9,191.8" fill="#ee8c3e"/><polygon points="516.6,183.6 520.7,182.2 520.7,191.8 516.6,193.2" fill="#d9752f"/><ellipse cx="515.8" cy="182.2" rx="4.9" ry="2.4" fill="#e36d3c"/><ellipse cx="515.8" cy="182.5" rx="3.5" ry="1.5" fill="#cf5530"/></g>
<g><polygon points="535.4,217.4 541.1,218.7 541.1,236.4 535.4,235.1" fill="#6884be"/><polygon points="541.1,218.7 545.2,217.4 545.2,235.1 541.1,236.4" fill="#5669a2"/><polygon points="535.4,194.1 541.1,195.5 541.1,218.7 535.4,217.4" fill="#f3b741"/><polygon points="541.1,195.5 545.2,194.1 545.2,217.4 541.1,218.7" fill="#e3a132"/><polygon points="535.4,184.6 541.1,185.9 541.1,195.5 535.4,194.1" fill="#ee8c3e"/><polygon points="541.1,185.9 545.2,184.6 545.2,194.1 541.1,195.5" fill="#d9752f"/><ellipse cx="540.3" cy="184.6" rx="4.9" ry="2.4" fill="#e36d3c"/><ellipse cx="540.3" cy="184.9" rx="3.5" ry="1.5" fill="#cf5530"/></g>
<g><polygon points="559.9,219.7 565.6,221.1 565.6,238.8 559.9,237.4" fill="#6884be"/><polygon points="565.6,221.1 569.7,219.7 569.7,237.4 565.6,238.8" fill="#5669a2"/><polygon points="559.9,196.5 565.6,197.9 565.6,221.1 559.9,219.7" fill="#f3b741"/><polygon points="565.6,197.9 569.7,196.5 569.7,219.7 565.6,221.1" fill="#e3a132"/><polygon points="559.9,186.9 565.6,188.3 565.6,197.9 559.9,196.5" fill="#ee8c3e"/><polygon points="565.6,188.3 569.7,186.9 569.7,196.5 565.6,197.9" fill="#d9752f"/><ellipse cx="564.8" cy="186.9" rx="4.9" ry="2.4" fill="#e36d3c"/><ellipse cx="564.8" cy="187.2" rx="3.5" ry="1.5" fill="#cf5530"/></g>
<g><polygon points="584.4,222.1 590.1,223.4 590.1,241.1 584.4,239.8" fill="#6884be"/><polygon points="590.1,223.4 594.2,222.1 594.2,239.8 590.1,241.1" fill="#5669a2"/><polygon points="584.4,198.8 590.1,200.2 590.1,223.4 584.4,222.1" fill="#f3b741"/><polygon points="590.1,200.2 594.2,198.8 594.2,222.1 590.1,223.4" fill="#e3a132"/><polygon points="584.4,189.2 590.1,190.6 590.1,200.2 584.4,198.8" fill="#ee8c3e"/><polygon points="590.1,190.6 594.2,189.2 594.2,198.8 590.1,200.2" fill="#d9752f"/><ellipse cx="589.3" cy="189.2" rx="4.9" ry="2.4" fill="#e36d3c"/><ellipse cx="589.3" cy="189.6" rx="3.5" ry="1.5" fill="#cf5530"/></g>
<g><polygon points="451.8,215.2 457.8,216.7 457.8,235.3 451.8,233.8" fill="#6884be"/><polygon points="457.8,216.7 462.2,215.2 462.2,233.8 457.8,235.3" fill="#5669a2"/><polygon points="451.8,190.9 457.8,192.3 457.8,216.7 451.8,215.2" fill="#f3b741"/><polygon points="457.8,192.3 462.2,190.9 462.2,215.2 457.8,216.7" fill="#e3a132"/><polygon points="451.8,180.8 457.8,182.3 457.8,192.3 451.8,190.9" fill="#ee8c3e"/><polygon points="457.8,182.3 462.2,180.8 462.2,190.9 457.8,192.3" fill="#d9752f"/><ellipse cx="457.0" cy="180.8" rx="5.2" ry="2.5" fill="#e36d3c"/><ellipse cx="457.0" cy="181.1" rx="3.7" ry="1.6" fill="#cf5530"/></g>
<g><polygon points="476.3,217.6 482.3,219.1 482.3,237.6 476.3,236.2" fill="#6884be"/><polygon points="482.3,219.1 486.7,217.6 486.7,236.2 482.3,237.6" fill="#5669a2"/><polygon points="476.3,193.2 482.3,194.7 482.3,219.1 476.3,217.6" fill="#f3b741"/><polygon points="482.3,194.7 486.7,193.2 486.7,217.6 482.3,219.1" fill="#e3a132"/><polygon points="476.3,183.2 482.3,184.6 482.3,194.7 476.3,193.2" fill="#ee8c3e"/><polygon points="482.3,184.6 486.7,183.2 486.7,193.2 482.3,194.7" fill="#d9752f"/><ellipse cx="481.5" cy="183.2" rx="5.2" ry="2.5" fill="#e36d3c"/><ellipse cx="481.5" cy="183.5" rx="3.7" ry="1.6" fill="#cf5530"/></g>
<g><polygon points="500.8,219.9 506.8,221.4 506.8,240.0 500.8,238.5" fill="#6884be"/><polygon points="506.8,221.4 511.2,219.9 511.2,238.5 506.8,240.0" fill="#5669a2"/><polygon points="500.8,195.6 506.8,197.0 506.8,221.4 500.8,219.9" fill="#f3b741"/><polygon points="506.8,197.0 511.2,195.6 511.2,219.9 506.8,221.4" fill="#e3a132"/><polygon points="500.8,185.5 506.8,187.0 506.8,197.0 500.8,195.6" fill="#ee8c3e"/><polygon points="506.8,187.0 511.2,185.5 511.2,195.6 506.8,197.0" fill="#d9752f"/><ellipse cx="506.0" cy="185.5" rx="5.2" ry="2.5" fill="#e36d3c"/><ellipse cx="506.0" cy="185.8" rx="3.7" ry="1.6" fill="#cf5530"/></g>
<g><polygon points="525.3,222.3 531.3,223.8 531.3,242.3 525.3,240.9" fill="#6884be"/><polygon points="531.3,223.8 535.7,222.3 535.7,240.9 531.3,242.3" fill="#5669a2"/><polygon points="525.3,197.9 531.3,199.4 531.3,223.8 525.3,222.3" fill="#f3b741"/><polygon points="531.3,199.4 535.7,197.9 535.7,222.3 531.3,223.8" fill="#e3a132"/><polygon points="525.3,187.9 531.3,189.3 531.3,199.4 525.3,197.9" fill="#ee8c3e"/><polygon points="531.3,189.3 535.7,187.9 535.7,197.9 531.3,199.4" fill="#d9752f"/><ellipse cx="530.5" cy="187.9" rx="5.2" ry="2.5" fill="#e36d3c"/><ellipse cx="530.5" cy="188.2" rx="3.7" ry="1.6" fill="#cf5530"/></g>
<g><polygon points="549.8,224.7 555.8,226.1 555.8,244.7 549.8,243.2" fill="#6884be"/><polygon points="555.8,226.1 560.2,224.7 560.2,243.2 555.8,244.7" fill="#5669a2"/><polygon points="549.8,200.3 555.8,201.7 555.8,226.1 549.8,224.7" fill="#f3b741"/><polygon points="555.8,201.7 560.2,200.3 560.2,224.7 555.8,226.1" fill="#e3a132"/><polygon points="549.8,190.2 555.8,191.7 555.8,201.7 549.8,200.3" fill="#ee8c3e"/><polygon points="555.8,191.7 560.2,190.2 560.2,200.3 555.8,201.7" fill="#d9752f"/><ellipse cx="555.0" cy="190.2" rx="5.2" ry="2.5" fill="#e36d3c"/><ellipse cx="555.0" cy="190.5" rx="3.7" ry="1.6" fill="#cf5530"/></g>
<g><polygon points="574.3,227.0 580.3,228.5 580.3,247.0 574.3,245.6" fill="#6884be"/><polygon points="580.3,228.5 584.7,227.0 584.7,245.6 580.3,247.0" fill="#5669a2"/><polygon points="574.3,202.6 580.3,204.1 580.3,228.5 574.3,227.0" fill="#f3b741"/><polygon points="580.3,204.1 584.7,202.6 584.7,227.0 580.3,228.5" fill="#e3a132"/><polygon points="574.3,192.6 580.3,194.0 580.3,204.1 574.3,202.6" fill="#ee8c3e"/><polygon points="580.3,194.0 584.7,192.6 584.7,202.6 580.3,204.1" fill="#d9752f"/><ellipse cx="579.5" cy="192.6" rx="5.2" ry="2.5" fill="#e36d3c"/><ellipse cx="579.5" cy="192.9" rx="3.7" ry="1.6" fill="#cf5530"/></g>
<g><polygon points="440.5,221.1 446.9,222.6 446.9,242.0 440.5,240.5" fill="#6884be"/><polygon points="446.9,222.6 451.5,221.1 451.5,240.5 446.9,242.0" fill="#5669a2"/><polygon points="440.5,195.5 446.9,197.1 446.9,222.6 440.5,221.1" fill="#f3b741"/><polygon points="446.9,197.1 451.5,195.5 451.5,221.1 446.9,222.6" fill="#e3a132"/><polygon points="440.5,185.0 446.9,186.5 446.9,197.1 440.5,195.5" fill="#ee8c3e"/><polygon points="446.9,186.5 451.5,185.0 451.5,195.5 446.9,197.1" fill="#d9752f"/><ellipse cx="446.0" cy="185.0" rx="5.5" ry="2.6" fill="#e36d3c"/><ellipse cx="446.0" cy="185.3" rx="4.0" ry="1.6" fill="#cf5530"/></g>
<g><polygon points="465.0,223.4 471.4,225.0 471.4,244.4 465.0,242.8" fill="#6884be"/><polygon points="471.4,225.0 476.0,223.4 476.0,242.8 471.4,244.4" fill="#5669a2"/><polygon points="465.0,197.9 471.4,199.4 471.4,225.0 465.0,223.4" fill="#f3b741"/><polygon points="471.4,199.4 476.0,197.9 476.0,223.4 471.4,225.0" fill="#e3a132"/><polygon points="465.0,187.3 471.4,188.9 471.4,199.4 465.0,197.9" fill="#ee8c3e"/><polygon points="471.4,188.9 476.0,187.3 476.0,197.9 471.4,199.4" fill="#d9752f"/><ellipse cx="470.5" cy="187.3" rx="5.5" ry="2.6" fill="#e36d3c"/><ellipse cx="470.5" cy="187.7" rx="4.0" ry="1.6" fill="#cf5530"/></g>
<g><polygon points="489.5,225.8 495.9,227.3 495.9,246.7 489.5,245.2" fill="#6884be"/><polygon points="495.9,227.3 500.5,225.8 500.5,245.2 495.9,246.7" fill="#5669a2"/><polygon points="489.5,200.2 495.9,201.8 495.9,227.3 489.5,225.8" fill="#f3b741"/><polygon points="495.9,201.8 500.5,200.2 500.5,225.8 495.9,227.3" fill="#e3a132"/><polygon points="489.5,189.7 495.9,191.2 495.9,201.8 489.5,200.2" fill="#ee8c3e"/><polygon points="495.9,191.2 500.5,189.7 500.5,200.2 495.9,201.8" fill="#d9752f"/><ellipse cx="495.0" cy="189.7" rx="5.5" ry="2.6" fill="#e36d3c"/><ellipse cx="495.0" cy="190.0" rx="4.0" ry="1.6" fill="#cf5530"/></g>
<g><polygon points="514.0,228.1 520.4,229.7 520.4,249.1 514.0,247.6" fill="#6884be"/><polygon points="520.4,229.7 525.0,228.1 525.0,247.6 520.4,249.1" fill="#5669a2"/><polygon points="514.0,202.6 520.4,204.1 520.4,229.7 514.0,228.1" fill="#f3b741"/><polygon points="520.4,204.1 525.0,202.6 525.0,228.1 520.4,229.7" fill="#e3a132"/><polygon points="514.0,192.1 520.4,193.6 520.4,204.1 514.0,202.6" fill="#ee8c3e"/><polygon points="520.4,193.6 525.0,192.1 525.0,202.6 520.4,204.1" fill="#d9752f"/><ellipse cx="519.5" cy="192.1" rx="5.5" ry="2.6" fill="#e36d3c"/><ellipse cx="519.5" cy="192.4" rx="4.0" ry="1.6" fill="#cf5530"/></g>
<g><polygon points="538.5,230.5 544.9,232.0 544.9,251.4 538.5,249.9" fill="#6884be"/><polygon points="544.9,232.0 549.5,230.5 549.5,249.9 544.9,251.4" fill="#5669a2"/><polygon points="538.5,204.9 544.9,206.5 544.9,232.0 538.5,230.5" fill="#f3b741"/><polygon points="544.9,206.5 549.5,204.9 549.5,230.5 544.9,232.0" fill="#e3a132"/><polygon points="538.5,194.4 544.9,195.9 544.9,206.5 538.5,204.9" fill="#ee8c3e"/><polygon points="544.9,195.9 549.5,194.4 549.5,204.9 544.9,206.5" fill="#d9752f"/><ellipse cx="544.0" cy="194.4" rx="5.5" ry="2.6" fill="#e36d3c"/><ellipse cx="544.0" cy="194.7" rx="4.0" ry="1.6" fill="#cf5530"/></g>
<g><polygon points="563.0,232.8 569.4,234.4 569.4,253.8 563.0,252.2" fill="#6884be"/><polygon points="569.4,234.4 574.0,232.8 574.0,252.2 569.4,253.8" fill="#5669a2"/><polygon points="563.0,207.3 569.4,208.8 569.4,234.4 563.0,232.8" fill="#f3b741"/><polygon points="569.4,208.8 574.0,207.3 574.0,232.8 569.4,234.4" fill="#e3a132"/><polygon points="563.0,196.8 569.4,198.3 569.4,208.8 563.0,207.3" fill="#ee8c3e"/><polygon points="569.4,198.3 574.0,196.8 574.0,207.3 569.4,208.8" fill="#d9752f"/><ellipse cx="568.5" cy="196.8" rx="5.5" ry="2.6" fill="#e36d3c"/><ellipse cx="568.5" cy="197.1" rx="4.0" ry="1.6" fill="#cf5530"/></g>
<polygon points="419,172 473.6,167 610,176.5 610,185 568,200 419,189" fill="#c2a8d2" opacity="0.38"/>
<polygon points="419,180 473.6,167 473.6,174.5 419,189" fill="#b3b8dd" opacity="0.9"/>
<polygon points="419,155 567.4,166 568,191 419,180" fill="#5ccfd0" opacity="0.6"/>
<polygon points="567.4,166 610,155.7 610,176.5 568,191" fill="#5ccfd0" opacity="0.6"/>
<g><polygon points="427.7,225.4 434.4,227.0 434.4,247.3 427.7,245.7" fill="#6884be"/><polygon points="434.4,227.0 439.3,225.4 439.3,245.7 434.4,247.3" fill="#5669a2"/><polygon points="427.7,198.7 434.4,200.3 434.4,227.0 427.7,225.4" fill="#f3b741"/><polygon points="434.4,200.3 439.3,198.7 439.3,225.4 434.4,227.0" fill="#e3a132"/><polygon points="427.7,187.7 434.4,189.3 434.4,200.3 427.7,198.7" fill="#ee8c3e"/><polygon points="434.4,189.3 439.3,187.7 439.3,198.7 434.4,200.3" fill="#d9752f"/><ellipse cx="433.5" cy="187.7" rx="5.8" ry="2.8" fill="#e36d3c"/><ellipse cx="433.5" cy="188.0" rx="4.2" ry="1.7" fill="#cf5530"/></g>
<g><polygon points="452.2,227.8 458.9,229.4 458.9,249.7 452.2,248.0" fill="#6884be"/><polygon points="458.9,229.4 463.8,227.8 463.8,248.0 458.9,249.7" fill="#5669a2"/><polygon points="452.2,201.1 458.9,202.7 458.9,229.4 452.2,227.8" fill="#f3b741"/><polygon points="458.9,202.7 463.8,201.1 463.8,227.8 458.9,229.4" fill="#e3a132"/><polygon points="452.2,190.0 458.9,191.7 458.9,202.7 452.2,201.1" fill="#ee8c3e"/><polygon points="458.9,191.7 463.8,190.0 463.8,201.1 458.9,202.7" fill="#d9752f"/><ellipse cx="458.0" cy="190.0" rx="5.8" ry="2.8" fill="#e36d3c"/><ellipse cx="458.0" cy="190.3" rx="4.2" ry="1.7" fill="#cf5530"/></g>
<g><polygon points="476.7,230.1 483.4,231.7 483.4,252.0 476.7,250.4" fill="#6884be"/><polygon points="483.4,231.7 488.3,230.1 488.3,250.4 483.4,252.0" fill="#5669a2"/><polygon points="476.7,203.4 483.4,205.0 483.4,231.7 476.7,230.1" fill="#f3b741"/><polygon points="483.4,205.0 488.3,203.4 488.3,230.1 483.4,231.7" fill="#e3a132"/><polygon points="476.7,192.4 483.4,194.0 483.4,205.0 476.7,203.4" fill="#ee8c3e"/><polygon points="483.4,194.0 488.3,192.4 488.3,203.4 483.4,205.0" fill="#d9752f"/><ellipse cx="482.5" cy="192.4" rx="5.8" ry="2.8" fill="#e36d3c"/><ellipse cx="482.5" cy="192.7" rx="4.2" ry="1.7" fill="#cf5530"/></g>
<g><polygon points="501.2,232.4 507.9,234.1 507.9,254.4 501.2,252.8" fill="#6884be"/><polygon points="507.9,234.1 512.8,232.4 512.8,252.8 507.9,254.4" fill="#5669a2"/><polygon points="501.2,205.8 507.9,207.4 507.9,234.1 501.2,232.4" fill="#f3b741"/><polygon points="507.9,207.4 512.8,205.8 512.8,232.4 507.9,234.1" fill="#e3a132"/><polygon points="501.2,194.8 507.9,196.4 507.9,207.4 501.2,205.8" fill="#ee8c3e"/><polygon points="507.9,196.4 512.8,194.8 512.8,205.8 507.9,207.4" fill="#d9752f"/><ellipse cx="507.0" cy="194.8" rx="5.8" ry="2.8" fill="#e36d3c"/><ellipse cx="507.0" cy="195.1" rx="4.2" ry="1.7" fill="#cf5530"/></g>
<g><polygon points="525.7,234.8 532.4,236.4 532.4,256.7 525.7,255.1" fill="#6884be"/><polygon points="532.4,236.4 537.3,234.8 537.3,255.1 532.4,256.7" fill="#5669a2"/><polygon points="525.7,208.1 532.4,209.7 532.4,236.4 525.7,234.8" fill="#f3b741"/><polygon points="532.4,209.7 537.3,208.1 537.3,234.8 532.4,236.4" fill="#e3a132"/><polygon points="525.7,197.1 532.4,198.7 532.4,209.7 525.7,208.1" fill="#ee8c3e"/><polygon points="532.4,198.7 537.3,197.1 537.3,208.1 532.4,209.7" fill="#d9752f"/><ellipse cx="531.5" cy="197.1" rx="5.8" ry="2.8" fill="#e36d3c"/><ellipse cx="531.5" cy="197.4" rx="4.2" ry="1.7" fill="#cf5530"/></g>
<g><polygon points="550.2,237.1 556.9,238.8 556.9,259.1 550.2,257.4" fill="#6884be"/><polygon points="556.9,238.8 561.8,237.1 561.8,257.4 556.9,259.1" fill="#5669a2"/><polygon points="550.2,210.5 556.9,212.1 556.9,238.8 550.2,237.1" fill="#f3b741"/><polygon points="556.9,212.1 561.8,210.5 561.8,237.1 556.9,238.8" fill="#e3a132"/><polygon points="550.2,199.4 556.9,201.1 556.9,212.1 550.2,210.5" fill="#ee8c3e"/><polygon points="556.9,201.1 561.8,199.4 561.8,210.5 556.9,212.1" fill="#d9752f"/><ellipse cx="556.0" cy="199.4" rx="5.8" ry="2.8" fill="#e36d3c"/><ellipse cx="556.0" cy="199.8" rx="4.2" ry="1.7" fill="#cf5530"/></g>
<polygon points="419,155 473.6,146 610,155.7 567.4,166" fill="#7adada" opacity="0.95"/>
<polyline points="419,155 473.6,146 610,155.7 567.4,166 419,155" fill="none" stroke="#b9dce3" stroke-width="0.8"/>
<line x1="473.6" y1="146" x2="473.6" y2="170" stroke="#b9dce3" stroke-width="0.8"/>
<line x1="567.4" y1="166" x2="568" y2="262" stroke="#c8dde6" stroke-width="0.8"/>
<line x1="419" y1="155" x2="420" y2="246" stroke="#c8dde6" stroke-width="0.8"/>
<line x1="610" y1="155.7" x2="610" y2="232" stroke="#c8dde6" stroke-width="0.8"/>
<line x1="554" y1="194.5" x2="601" y2="179" stroke="#b8c98e" stroke-width="4" stroke-linecap="butt"/>
<polyline points="578.7,184 578.7,174.3 629.7,174.3 629.7,198.8" fill="none" stroke="#4d5566" stroke-width="1.2"/>
<circle cx="629.7" cy="206.6" r="7.8" fill="#fff" stroke="#4d5566" stroke-width="1.2"/>
<text x="629.7" y="210.6" font-size="11" text-anchor="middle" fill="#3d4759" font-family='"Liberation Sans", sans-serif'>A</text>
<line x1="629.7" y1="214.4" x2="629.7" y2="226.2" stroke="#4d5566" stroke-width="1.2"/>
<line x1="624.9000000000001" y1="226.2" x2="634.5" y2="226.2" stroke="#4d5566" stroke-width="1.2"/>
<line x1="621.5" y1="230.2" x2="637.9000000000001" y2="230.2" stroke="#4d5566" stroke-width="1.2"/>
<polyline points="629.7,230.2 629.7,259.4 598.3,259.4" fill="none" stroke="#4d5566" stroke-width="1.2"/></g>
<polygon points="353.3,180.8 330.3,210.3 342.1,206.0 323.8,229.1 336.3,224.7 323.1,249.9 349.7,215.4 337.7,219.7 351.9,199.5 340.3,204.6" fill="#ffe22c" stroke="#eb9a64" stroke-width="0.45" stroke-linejoin="miter"/>
<polygon points="658.0,202.0 647.6,215.3 652.9,213.3 644.7,223.7 650.4,221.8 644.4,233.1 656.4,217.6 651.0,219.5 657.4,210.4 652.2,212.7" fill="#ffe22c" stroke="#eb9a64" stroke-width="0.45" stroke-linejoin="miter"/>
<text x="308.8" y="25.3" font-size="12.3" text-anchor="end" fill="#3a4658" stroke="#3a4658" stroke-width="0.2" font-family='"Liberation Sans", sans-serif' textLength="155" lengthAdjust="spacingAndGlyphs">Excitation light high intensity</text><text x="307.5" y="39.7" font-size="12.3" text-anchor="end" fill="#3a4658" stroke="#3a4658" stroke-width="0.2" font-family='"Liberation Sans", sans-serif' textLength="80.6" lengthAdjust="spacingAndGlyphs">“WRITE” regime</text><text x="608.7" y="24.9" font-size="12.3" text-anchor="end" fill="#3a4658" stroke="#3a4658" stroke-width="0.2" font-family='"Liberation Sans", sans-serif' textLength="150.8" lengthAdjust="spacingAndGlyphs">Excitation light low intensity</text><text x="608.5" y="39.2" font-size="12.3" text-anchor="end" fill="#3a4658" stroke="#3a4658" stroke-width="0.2" font-family='"Liberation Sans", sans-serif' textLength="77.9" lengthAdjust="spacingAndGlyphs">“READ” regime</text><text x="97.9" y="171.3" font-size="12" text-anchor="end" fill="#3a4658" stroke="#3a4658" stroke-width="0.2" font-family='"Liberation Sans", sans-serif' textLength="51.9" lengthAdjust="spacingAndGlyphs">DASA dye</text><text x="99.3" y="188.9" font-size="9.5" text-anchor="end" fill="#3a4658" stroke="#3a4658" stroke-width="0.2" font-family='"Liberation Sans", sans-serif' textLength="13.7" lengthAdjust="spacingAndGlyphs">ITO</text><text x="101.5" y="217.8" font-size="12" text-anchor="end" fill="#3a4658" stroke="#3a4658" stroke-width="0.2" font-family='"Liberation Sans", sans-serif' textLength="74.3" lengthAdjust="spacingAndGlyphs">InP nanowires</text><text x="89" y="272.6" font-size="12" text-anchor="end" fill="#3a4658" stroke="#3a4658" stroke-width="0.2" font-family='"Liberation Sans", sans-serif' textLength="60.9" lengthAdjust="spacingAndGlyphs">Si substrate</text>
<g clip-path="url(#clipB)">
<polyline points="54.5,520.3 58.0,520.0 62.2,519.5 66.0,520.3 80.0,520.3 90.8,519.9 94.0,518.8 96.9,518.3" fill="none" stroke="#3f8bc9" stroke-width="1.0" stroke-linejoin="round" />
<polyline points="113.3,501.5 119.4,497.4 125.5,489.3 131.7,472.9 137.8,449.4 143.9,435.1 148.0,428.0 152.0,415.0 155.6,401.4 158.2,404.5 161.3,430.0 165.4,460.7 169.5,493.4 173.6,514.8 177.6,518.3 180.7,517.5 184.8,522.4 188.9,520.0 194.0,520.3 198.0,521.6 203.0,520.4 209.0,522.4 211.1,519.7 213.0,520.2" fill="none" stroke="#3f8bc9" stroke-width="1.0" stroke-linejoin="round" />
<line x1="54.4" y1="520.3" x2="331.7" y2="520.3" stroke="#222" stroke-width="0.9" stroke-dasharray="2.6,1.6"/>
<polyline points="57.7,454.5 61.8,451.0 69.3,457.2 73.4,453.5 77.5,456.0 81.6,453.5 88.7,444.7 93.9,435.1 101.0,420.8 108.8,411.6 114.3,410.2 119.0,411.6 124.5,420.8 130.6,443.3 135.7,464.7 141.9,481.1 148.4,493.4 155.2,507.7 159.9,508.1 163.3,498.5 166.4,477.0 169.5,452.5 172.1,430.0 175.6,412.7 179.1,406.1 182.7,411.6 190.6,398.0 195.0,418.2 199.7,440.0 202.2,449.9 206.8,466.1 211.6,466.7 214.9,469.4 219.8,481.0 223.8,490.5 229.2,494.5 233.3,496.7 238.1,502.7 242.7,500.0 246.8,505.4 254.9,512.1 260.9,515.4 264.4,514.8 271.1,518.1 276.6,516.2 284.1,519.4 291.4,516.7 298.2,517.5 309.0,517.0 315.8,510.8 322.5,517.5 331.5,516.2" fill="none" stroke="#f0282a" stroke-width="1.0" stroke-linejoin="round" />
<polyline points="57.7,415.7 61.8,399.4 65.2,395.7 69.3,385.1 73.4,381.6 80.6,378.9 84.7,380.4 89.2,387.7 93.2,392.2 97.9,389.2 102.0,386.5 105.1,386.1 109.2,383.0 113.3,374.9 120.4,366.7 126.6,360.5 131.7,358.1 136.4,354.0 139.8,356.1 143.9,353.8 148.0,346.2 151.7,350.7 156.2,348.3 160.3,348.7 166.4,351.3 171.4,358.6 175.1,379.5 178.9,389.9 183.6,401.2 187.4,412.6 190.3,427.7 196.0,438.1 203.0,449.9 207.6,455.3 211.1,457.5 214.3,463.4 218.4,477.0 223.8,479.7 226.5,485.6 230.6,494.5 234.6,491.8 238.1,496.7 241.9,493.7 246.8,504.0 254.9,512.1 260.9,517.5 265.7,514.3 271.1,513.8 276.6,514.8 283.3,519.4 290.1,517.0 303.6,517.5 317.1,517.0 331.5,515.4" fill="none" stroke="#1a1a1a" stroke-width="1.0" stroke-linejoin="round" />
</g>
<rect x="54.4" y="337.4" width="277.3" height="193.70000000000005" fill="none" stroke="#777" stroke-width="0.9"/>
<line x1="54.4" y1="337.4" x2="54.4" y2="531.1" stroke="#bbb" stroke-width="1.6"/>
<line x1="54.4" y1="531.1" x2="331.7" y2="531.1" stroke="#aaa" stroke-width="1.4"/>
<line x1="54.4" y1="526.5" x2="57.4" y2="526.5" stroke="#333" stroke-width="0.9"/>
<line x1="54.4" y1="520.3" x2="59.9" y2="520.3" stroke="#333" stroke-width="0.9"/>
<line x1="54.4" y1="514.1" x2="57.4" y2="514.1" stroke="#333" stroke-width="0.9"/>
<line x1="54.4" y1="508.0" x2="57.4" y2="508.0" stroke="#333" stroke-width="0.9"/>
<line x1="54.4" y1="501.8" x2="57.4" y2="501.8" stroke="#333" stroke-width="0.9"/>
<line x1="54.4" y1="495.7" x2="57.4" y2="495.7" stroke="#333" stroke-width="0.9"/>
<line x1="54.4" y1="489.5" x2="59.9" y2="489.5" stroke="#333" stroke-width="0.9"/>
<line x1="54.4" y1="483.3" x2="57.4" y2="483.3" stroke="#333" stroke-width="0.9"/>
<line x1="54.4" y1="477.2" x2="57.4" y2="477.2" stroke="#333" stroke-width="0.9"/>
<line x1="54.4" y1="471.0" x2="57.4" y2="471.0" stroke="#333" stroke-width="0.9"/>
<line x1="54.4" y1="464.9" x2="57.4" y2="464.9" stroke="#333" stroke-width="0.9"/>
<line x1="54.4" y1="458.7" x2="59.9" y2="458.7" stroke="#333" stroke-width="0.9"/>
<line x1="54.4" y1="452.5" x2="57.4" y2="452.5" stroke="#333" stroke-width="0.9"/>
<line x1="54.4" y1="446.4" x2="57.4" y2="446.4" stroke="#333" stroke-width="0.9"/>
<line x1="54.4" y1="440.2" x2="57.4" y2="440.2" stroke="#333" stroke-width="0.9"/>
<line x1="54.4" y1="434.1" x2="57.4" y2="434.1" stroke="#333" stroke-width="0.9"/>
<line x1="54.4" y1="427.9" x2="59.9" y2="427.9" stroke="#333" stroke-width="0.9"/>
<line x1="54.4" y1="421.7" x2="57.4" y2="421.7" stroke="#333" stroke-width="0.9"/>
<line x1="54.4" y1="415.6" x2="57.4" y2="415.6" stroke="#333" stroke-width="0.9"/>
<line x1="54.4" y1="409.4" x2="57.4" y2="409.4" stroke="#333" stroke-width="0.9"/>
<line x1="54.4" y1="403.3" x2="57.4" y2="403.3" stroke="#333" stroke-width="0.9"/>
<line x1="54.4" y1="397.1" x2="59.9" y2="397.1" stroke="#333" stroke-width="0.9"/>
<line x1="54.4" y1="390.9" x2="57.4" y2="390.9" stroke="#333" stroke-width="0.9"/>
<line x1="54.4" y1="384.8" x2="57.4" y2="384.8" stroke="#333" stroke-width="0.9"/>
<line x1="54.4" y1="378.6" x2="57.4" y2="378.6" stroke="#333" stroke-width="0.9"/>
<line x1="54.4" y1="372.5" x2="57.4" y2="372.5" stroke="#333" stroke-width="0.9"/>
<line x1="54.4" y1="366.3" x2="59.9" y2="366.3" stroke="#333" stroke-width="0.9"/>
<line x1="54.4" y1="360.1" x2="57.4" y2="360.1" stroke="#333" stroke-width="0.9"/>
<line x1="54.4" y1="354.0" x2="57.4" y2="354.0" stroke="#333" stroke-width="0.9"/>
<line x1="54.4" y1="347.8" x2="57.4" y2="347.8" stroke="#333" stroke-width="0.9"/>
<line x1="54.4" y1="341.7" x2="57.4" y2="341.7" stroke="#333" stroke-width="0.9"/>
<text x="52.4" y="523.9" font-size="10.20" text-anchor="end" fill="#111" font-family='"Liberation Sans", sans-serif' textLength="6.4" lengthAdjust="spacingAndGlyphs" >0</text>
<text x="52.4" y="493.1" font-size="10.20" text-anchor="end" fill="#111" font-family='"Liberation Sans", sans-serif' textLength="12.7" lengthAdjust="spacingAndGlyphs" >10</text>
<text x="52.4" y="462.3" font-size="10.20" text-anchor="end" fill="#111" font-family='"Liberation Sans", sans-serif' textLength="12.7" lengthAdjust="spacingAndGlyphs" >20</text>
<text x="52.4" y="431.5" font-size="10.20" text-anchor="end" fill="#111" font-family='"Liberation Sans", sans-serif' textLength="12.7" lengthAdjust="spacingAndGlyphs" >30</text>
<text x="52.4" y="400.7" font-size="10.20" text-anchor="end" fill="#111" font-family='"Liberation Sans", sans-serif' textLength="12.7" lengthAdjust="spacingAndGlyphs" >40</text>
<text x="52.4" y="369.9" font-size="10.20" text-anchor="end" fill="#111" font-family='"Liberation Sans", sans-serif' textLength="12.7" lengthAdjust="spacingAndGlyphs" >50</text>
<line x1="58.1" y1="531.1" x2="58.1" y2="525.6" stroke="#333" stroke-width="0.9"/>
<line x1="65.9" y1="531.1" x2="65.9" y2="528.5" stroke="#333" stroke-width="0.9"/>
<line x1="73.7" y1="531.1" x2="73.7" y2="528.5" stroke="#333" stroke-width="0.9"/>
<line x1="81.5" y1="531.1" x2="81.5" y2="528.5" stroke="#333" stroke-width="0.9"/>
<line x1="89.4" y1="531.1" x2="89.4" y2="528.5" stroke="#333" stroke-width="0.9"/>
<line x1="97.2" y1="531.1" x2="97.2" y2="525.6" stroke="#333" stroke-width="0.9"/>
<line x1="105.0" y1="531.1" x2="105.0" y2="528.5" stroke="#333" stroke-width="0.9"/>
<line x1="112.8" y1="531.1" x2="112.8" y2="528.5" stroke="#333" stroke-width="0.9"/>
<line x1="120.6" y1="531.1" x2="120.6" y2="528.5" stroke="#333" stroke-width="0.9"/>
<line x1="128.4" y1="531.1" x2="128.4" y2="528.5" stroke="#333" stroke-width="0.9"/>
<line x1="136.2" y1="531.1" x2="136.2" y2="525.6" stroke="#333" stroke-width="0.9"/>
<line x1="144.1" y1="531.1" x2="144.1" y2="528.5" stroke="#333" stroke-width="0.9"/>
<line x1="151.9" y1="531.1" x2="151.9" y2="528.5" stroke="#333" stroke-width="0.9"/>
<line x1="159.7" y1="531.1" x2="159.7" y2="528.5" stroke="#333" stroke-width="0.9"/>
<line x1="167.5" y1="531.1" x2="167.5" y2="528.5" stroke="#333" stroke-width="0.9"/>
<line x1="175.3" y1="531.1" x2="175.3" y2="525.6" stroke="#333" stroke-width="0.9"/>
<line x1="183.1" y1="531.1" x2="183.1" y2="528.5" stroke="#333" stroke-width="0.9"/>
<line x1="190.9" y1="531.1" x2="190.9" y2="528.5" stroke="#333" stroke-width="0.9"/>
<line x1="198.8" y1="531.1" x2="198.8" y2="528.5" stroke="#333" stroke-width="0.9"/>
<line x1="206.6" y1="531.1" x2="206.6" y2="528.5" stroke="#333" stroke-width="0.9"/>
<line x1="214.4" y1="531.1" x2="214.4" y2="525.6" stroke="#333" stroke-width="0.9"/>
<line x1="222.2" y1="531.1" x2="222.2" y2="528.5" stroke="#333" stroke-width="0.9"/>
<line x1="230.0" y1="531.1" x2="230.0" y2="528.5" stroke="#333" stroke-width="0.9"/>
<line x1="237.8" y1="531.1" x2="237.8" y2="528.5" stroke="#333" stroke-width="0.9"/>
<line x1="245.6" y1="531.1" x2="245.6" y2="528.5" stroke="#333" stroke-width="0.9"/>
<line x1="253.4" y1="531.1" x2="253.4" y2="525.6" stroke="#333" stroke-width="0.9"/>
<line x1="261.3" y1="531.1" x2="261.3" y2="528.5" stroke="#333" stroke-width="0.9"/>
<line x1="269.1" y1="531.1" x2="269.1" y2="528.5" stroke="#333" stroke-width="0.9"/>
<line x1="276.9" y1="531.1" x2="276.9" y2="528.5" stroke="#333" stroke-width="0.9"/>
<line x1="284.7" y1="531.1" x2="284.7" y2="528.5" stroke="#333" stroke-width="0.9"/>
<line x1="292.5" y1="531.1" x2="292.5" y2="525.6" stroke="#333" stroke-width="0.9"/>
<line x1="300.3" y1="531.1" x2="300.3" y2="528.5" stroke="#333" stroke-width="0.9"/>
<line x1="308.1" y1="531.1" x2="308.1" y2="528.5" stroke="#333" stroke-width="0.9"/>
<line x1="316.0" y1="531.1" x2="316.0" y2="528.5" stroke="#333" stroke-width="0.9"/>
<line x1="323.8" y1="531.1" x2="323.8" y2="528.5" stroke="#333" stroke-width="0.9"/>
<line x1="331.6" y1="531.1" x2="331.6" y2="525.6" stroke="#333" stroke-width="0.9"/>
<text x="58.1" y="541.7" font-size="10.20" text-anchor="middle" fill="#111" font-family='"Liberation Sans", sans-serif' textLength="19.1" lengthAdjust="spacingAndGlyphs" >400</text>
<text x="97.2" y="541.7" font-size="10.20" text-anchor="middle" fill="#111" font-family='"Liberation Sans", sans-serif' textLength="19.1" lengthAdjust="spacingAndGlyphs" >500</text>
<text x="136.2" y="541.7" font-size="10.20" text-anchor="middle" fill="#111" font-family='"Liberation Sans", sans-serif' textLength="19.1" lengthAdjust="spacingAndGlyphs" >600</text>
<text x="175.3" y="541.7" font-size="10.20" text-anchor="middle" fill="#111" font-family='"Liberation Sans", sans-serif' textLength="19.1" lengthAdjust="spacingAndGlyphs" >700</text>
<text x="214.4" y="541.7" font-size="10.20" text-anchor="middle" fill="#111" font-family='"Liberation Sans", sans-serif' textLength="19.1" lengthAdjust="spacingAndGlyphs" >800</text>
<text x="253.4" y="541.7" font-size="10.20" text-anchor="middle" fill="#111" font-family='"Liberation Sans", sans-serif' textLength="19.1" lengthAdjust="spacingAndGlyphs" >900</text>
<text x="292.5" y="541.7" font-size="10.20" text-anchor="middle" fill="#111" font-family='"Liberation Sans", sans-serif' textLength="25.4" lengthAdjust="spacingAndGlyphs" >1000</text>
<text x="331.6" y="541.7" font-size="10.20" text-anchor="middle" fill="#111" font-family='"Liberation Sans", sans-serif' textLength="25.4" lengthAdjust="spacingAndGlyphs" >1100</text>
<text x="174.8" y="552.7" font-size="10.91" text-anchor="start" fill="#111" font-family='"Liberation Sans", sans-serif' textLength="6.0" lengthAdjust="spacingAndGlyphs" font-style="italic">λ</text>
<text x="185.3" y="552.7" font-size="10.91" text-anchor="start" fill="#111" font-family='"Liberation Sans", sans-serif' textLength="25.2" lengthAdjust="spacingAndGlyphs" >(nm)</text>
<g transform="translate(34.9,434.2) rotate(-90)"><text x="0.0" y="0.0" font-size="10.91" text-anchor="middle" fill="#111" font-family='"Liberation Sans", sans-serif' textLength="43.8" lengthAdjust="spacingAndGlyphs" >EQE (%)</text></g>
<rect x="208.2" y="342.5" width="118.4" height="46.8" rx="2" fill="#fff" fill-opacity="0.8" stroke="#ddd" stroke-width="0.8"/>
<line x1="211.6" y1="350.5" x2="232.4" y2="350.5" stroke="#333" stroke-width="1.3"/>
<text x="240.6" y="354.1" font-size="10.20" text-anchor="start" fill="#111" font-family='"Liberation Sans", sans-serif' textLength="44.5" lengthAdjust="spacingAndGlyphs" >No DASA</text>
<line x1="211.6" y1="365.3" x2="232.4" y2="365.3" stroke="#f04848" stroke-width="1.3"/>
<text x="240.6" y="368.9" font-size="10.20" text-anchor="start" fill="#111" font-family='"Liberation Sans", sans-serif' textLength="53.6" lengthAdjust="spacingAndGlyphs" >With DASA</text>
<line x1="211.6" y1="380.1" x2="232.4" y2="380.1" stroke="#8fbfe3" stroke-width="1.3"/>
<text x="240.6" y="383.7" font-size="10.20" text-anchor="start" fill="#111" font-family='"Liberation Sans", sans-serif' textLength="81.6" lengthAdjust="spacingAndGlyphs" >DASA abs. (a.u.)</text>
<svg x="226.5" y="398.1" width="91.1" height="61" viewBox="226.5 398.1 91.1 61" overflow="hidden"><g filter="url(#pblur)">
<rect x="224" y="396" width="96" height="66" fill="#bcab84"/>
<polygon points="226.5,398.1 233.8,398.1 232.4,424.0 236.6,442.3 240.8,458.4 226.5,459.8" fill="#8a7a55"/>
<polygon points="226.5,398.1 229.6,398.1 229.6,459.8 226.5,459.8" fill="#3a3222"/>
<polygon points="306.7,400.2 317.6,399.5 317.6,428.2 312.3,418.4" fill="#ddd4bc"/>
<polygon points="232.4,399.5 296.9,398.8 305.3,410.0 308.1,436.6 298.3,440.8 289.9,447.9 273.1,452.1 260.4,457.7 240.8,458.4 236.6,442.3 232.4,424.0" fill="#0a3486"/>
<polygon points="235.2,400.2 294.1,399.5 299.7,412.8 302.5,435.2 280.1,442.3 252.0,440.8 239.4,431.0" fill="#0f43ad"/>
<polygon points="239.4,405.8 289.9,404.4 298.3,424.0 295.5,433.8 266.0,438.0 245.0,432.4" fill="#1a5fd2" opacity="0.75"/>
<line x1="254.2" y1="422.7" x2="258.4" y2="425.9" stroke="#5da6f2" stroke-width="0.9" opacity="0.8"/>
<line x1="274.7" y1="425.5" x2="277.7" y2="427.8" stroke="#5da6f2" stroke-width="0.9" opacity="0.8"/>
<line x1="241.6" y1="432.6" x2="245.4" y2="435.4" stroke="#5da6f2" stroke-width="0.9" opacity="0.8"/>
<line x1="254.0" y1="437.9" x2="258.6" y2="441.4" stroke="#5da6f2" stroke-width="0.9" opacity="0.8"/>
<line x1="287.7" y1="420.4" x2="293.0" y2="424.4" stroke="#5da6f2" stroke-width="0.9" opacity="0.8"/>
<line x1="249.3" y1="425.8" x2="255.5" y2="430.4" stroke="#5da6f2" stroke-width="0.9" opacity="0.8"/>
<line x1="270.1" y1="429.3" x2="275.6" y2="433.4" stroke="#5da6f2" stroke-width="0.9" opacity="0.8"/>
<line x1="244.4" y1="429.9" x2="249.5" y2="433.8" stroke="#5da6f2" stroke-width="0.9" opacity="0.8"/>
<line x1="257.7" y1="405.5" x2="263.9" y2="410.1" stroke="#5da6f2" stroke-width="0.9" opacity="0.8"/>
<line x1="267.3" y1="428.6" x2="273.6" y2="433.3" stroke="#5da6f2" stroke-width="0.9" opacity="0.8"/>
<line x1="280.9" y1="435.4" x2="285.2" y2="438.7" stroke="#5da6f2" stroke-width="0.9" opacity="0.8"/>
<line x1="285.7" y1="419.4" x2="292.2" y2="424.2" stroke="#5da6f2" stroke-width="0.9" opacity="0.8"/>
<line x1="290.1" y1="407.7" x2="293.4" y2="410.2" stroke="#5da6f2" stroke-width="0.9" opacity="0.8"/>
<line x1="253.0" y1="436.9" x2="257.5" y2="440.3" stroke="#5da6f2" stroke-width="0.9" opacity="0.8"/>
<line x1="275.9" y1="414.5" x2="280.7" y2="418.1" stroke="#5da6f2" stroke-width="0.9" opacity="0.8"/>
<line x1="262.5" y1="416.2" x2="267.5" y2="420.0" stroke="#5da6f2" stroke-width="0.9" opacity="0.8"/>
<line x1="273.6" y1="434.8" x2="279.1" y2="438.9" stroke="#5da6f2" stroke-width="0.9" opacity="0.8"/>
<line x1="292.9" y1="433.2" x2="299.6" y2="438.2" stroke="#5da6f2" stroke-width="0.9" opacity="0.8"/>
<line x1="278.5" y1="409.9" x2="284.6" y2="414.5" stroke="#5da6f2" stroke-width="0.9" opacity="0.8"/>
<line x1="294.9" y1="434.8" x2="299.9" y2="438.6" stroke="#5da6f2" stroke-width="0.9" opacity="0.8"/>
<line x1="280.8" y1="411.5" x2="286.9" y2="416.1" stroke="#5da6f2" stroke-width="0.9" opacity="0.8"/>
<line x1="273.0" y1="414.0" x2="276.0" y2="416.3" stroke="#5da6f2" stroke-width="0.9" opacity="0.8"/>
<line x1="288.7" y1="437.7" x2="291.8" y2="440.1" stroke="#5da6f2" stroke-width="0.9" opacity="0.8"/>
<line x1="285.7" y1="418.2" x2="289.1" y2="420.8" stroke="#5da6f2" stroke-width="0.9" opacity="0.8"/>
<line x1="257.3" y1="430.3" x2="263.5" y2="434.9" stroke="#5da6f2" stroke-width="0.9" opacity="0.8"/>
<line x1="243.3" y1="425.1" x2="246.3" y2="427.3" stroke="#5da6f2" stroke-width="0.9" opacity="0.8"/>
<polygon points="232.4,399.5 270.3,398.8 263.2,405.8 240.8,407.2 233.8,411.4" fill="#0c6c72" opacity="0.8"/>
<polygon points="237.3,425.4 242.2,426.1 247.1,443.7 241.5,445.1" fill="#2fcf5c"/>
<polygon points="294.1,398.8 299.0,398.8 308.1,435.2 304.6,436.6" fill="#5fd3ea"/>
<polyline points="293.4,399.5 303.2,435.9" stroke="#061a3a" stroke-width="1.4" fill="none"/>
<polygon points="243.6,440.8 302.5,438.0 289.9,447.9 273.1,452.1 260.4,457.7 242.2,457.7" fill="#167a98" opacity="0.85"/>
<polygon points="226.5,416.3 256.9,427.1 256.5,428.5 226.5,419.5" fill="#f1ece2"/>
</g></svg>
<g clip-path="url(#clipC)">
<polyline points="392.0,361.7 397.6,360.9 403.2,365.7 408.9,367.6 414.5,367.8 420.1,368.6 424.9,370.5 429.7,369.4 434.6,374.5 440.2,378.5 446.6,377.4 451.4,378.5 457.8,381.4 462.7,382.6 468.3,380.6 473.9,382.6 479.5,385.0 484.3,385.4 490.0,389.5 494.8,389.5 500.6,385.3 506.2,390.4 515.9,389.6 522.3,393.3 527.9,394.6 533.5,397.0 538.4,398.9 543.2,400.5 550.4,404.5 554.7,406.1 562.4,406.9 569.7,409.0 576.1,412.2 581.7,413.0 586.5,412.2 592.2,416.9 597.8,417.7 604.4,421.5 608.8,422.4 613.9,420.3 619.5,420.5 625.2,411.7 630.9,404.1 636.6,394.7 641.0,387.1 646.7,380.2 651.7,373.9 657.4,367.3 662.4,373.6 668.1,361.5 673.1,367.6 678.8,362.8 684.5,365.0" fill="none" stroke="#3d86c6" stroke-width="1.0" stroke-linejoin="round" />
<polyline points="392.0,367.0 396.8,367.6 403.2,372.1 408.1,372.9 413.7,372.9 418.5,371.3 424.1,375.0 430.5,373.4 436.2,376.6 441.8,378.9 447.4,378.5 452.2,378.5 457.8,381.0 462.7,382.6 468.3,383.4 473.9,385.0 479.5,388.2 485.1,391.1 490.8,393.0 494.8,393.0 501.4,397.3 509.5,399.2 515.9,402.1 522.3,407.3 527.9,408.5 533.5,413.0 538.4,419.8 543.2,422.2 548.0,425.4 554.7,431.8 560.0,437.1 565.7,437.1 571.3,440.2 576.9,440.7 582.5,443.6 588.1,447.1 595.0,451.6 603.1,460.6 613.0,457.9 619.4,457.5 624.8,450.7 631.1,438.0 637.4,420.0 640.4,407.9 646.7,395.3 652.3,383.3 657.4,374.9 662.4,380.2 668.1,364.4 674.4,366.3 680.7,365.7 684.5,366.9" fill="none" stroke="#ff8c1e" stroke-width="1.0" stroke-linejoin="round" />
<polyline points="392.0,368.9 398.4,372.9 408.1,372.9 416.1,374.5 424.1,375.0 430.5,374.0 437.0,377.3 443.4,379.3 449.8,381.4 456.2,382.6 462.7,383.4 469.1,385.8 475.5,388.2 481.9,391.4 488.4,395.4 494.8,400.2 500.6,400.5 506.2,406.1 511.1,408.5 516.7,412.6 523.1,418.2 528.7,422.2 533.5,427.8 539.2,435.0 543.2,436.6 549.6,443.1 554.7,446.4 565.7,454.1 570.5,454.5 576.9,457.7 583.3,461.7 589.7,464.1 595.0,468.7 608.5,475.0 619.4,472.3 630.2,457.0 638.3,432.6 645.4,409.2 651.7,391.5 657.4,378.9 663.1,385.9 668.7,367.6 673.8,370.7 678.8,369.5 684.5,365.7" fill="none" stroke="#33a333" stroke-width="1.0" stroke-linejoin="round" />
<polyline points="392.0,374.5 396.8,376.6 403.2,375.3 409.7,375.7 416.1,376.9 424.1,376.1 430.5,376.6 437.0,378.2 443.4,380.1 449.8,382.6 456.2,384.2 462.7,385.0 469.1,386.6 475.5,390.6 481.9,394.3 488.4,397.5 494.8,400.2 499.8,404.5 505.4,411.8 510.3,414.2 516.7,418.2 522.3,425.4 527.9,429.4 533.5,435.8 539.2,443.1 543.2,449.6 551.2,455.3 560.0,462.5 565.7,463.3 572.1,466.5 578.5,469.7 584.9,471.3 591.4,476.9 595.0,478.1 603.1,484.9 613.9,486.4 624.8,476.8 633.8,456.1 641.6,430.0 649.2,407.9 655.5,390.3 661.8,382.1 668.1,370.1 673.1,368.2 678.8,372.0 684.5,368.8" fill="none" stroke="#d93030" stroke-width="1.0" stroke-linejoin="round" />
<polyline points="392.0,375.0 396.8,376.1 403.2,377.7 409.7,377.7 416.1,378.5 424.1,377.3 430.5,377.7 437.0,378.5 443.4,381.0 449.8,383.0 456.2,384.2 462.7,385.8 469.1,389.0 475.5,391.4 481.9,397.0 488.4,400.2 494.8,404.2 499.8,411.8 505.4,415.3 511.1,419.0 516.7,425.4 521.5,433.4 527.1,437.4 531.9,443.9 537.6,453.7 544.8,458.5 554.7,468.1 565.7,473.7 570.5,473.7 578.5,476.9 584.9,481.0 593.0,487.4 599.4,489.8 608.5,494.9 619.4,491.3 626.6,483.1 636.5,459.7 644.8,430.0 651.7,407.9 657.4,391.3 662.4,390.9 668.1,374.1 673.1,374.5 678.8,373.9 684.5,370.7" fill="none" stroke="#9467bd" stroke-width="1.0" stroke-linejoin="round" />
<polyline points="392.0,381.0 396.8,379.3 403.2,378.2 409.7,380.1 416.1,378.5 424.1,379.3 430.5,378.5 437.0,381.0 443.4,383.4 449.8,385.0 453.0,388.2 459.4,389.0 467.5,393.0 473.9,393.0 479.5,397.0 485.1,401.8 491.6,407.4 495.0,412.6 500.6,417.4 506.2,423.8 511.1,430.2 517.5,437.4 523.1,443.9 527.1,449.6 538.4,467.3 548.0,476.1 554.7,479.3 560.8,483.4 568.9,484.2 576.9,486.6 584.9,489.0 591.4,493.8 597.8,497.0 602.2,498.5 608.5,502.6 619.4,502.6 630.2,486.8 640.1,458.8 647.3,430.0 653.0,410.4 658.0,399.1 663.1,391.5 668.1,387.1 673.8,373.9 679.5,371.1 684.5,370.1" fill="none" stroke="#8c564b" stroke-width="1.0" stroke-linejoin="round" />
<polyline points="392.0,385.0 403.2,386.6 412.9,384.2 419.3,383.4 424.9,385.0 432.1,383.0 437.0,384.2 441.8,386.6 446.6,387.4 453.0,389.8 459.4,391.1 467.5,396.2 473.9,398.6 479.5,404.2 485.1,410.7 490.8,418.7 495.0,424.6 500.6,432.6 506.2,439.1 511.1,444.0 517.5,454.5 524.7,462.5 532.7,477.7 541.6,488.2 551.2,496.2 554.7,498.1 560.0,495.4 565.7,498.6 575.3,500.2 584.1,500.7 591.4,503.4 599.5,508.0 603.1,507.5 608.5,508.8 613.0,509.3 619.4,511.1 626.6,503.9 633.8,486.8 643.7,456.1 652.3,430.0 657.4,410.4 662.4,407.9 668.1,386.5 673.1,386.5 678.8,383.3 684.5,379.5" fill="none" stroke="#e377c2" stroke-width="1.0" stroke-linejoin="round" />
</g>
<rect x="392.6" y="333.4" width="291.79999999999995" height="192.80000000000007" fill="none" stroke="#777" stroke-width="0.9"/>
<line x1="392.6" y1="333.4" x2="392.6" y2="526.2" stroke="#bbb" stroke-width="1.6"/>
<line x1="392.6" y1="526.2" x2="684.4" y2="526.2" stroke="#aaa" stroke-width="1.4"/>
<line x1="684.4" y1="333.4" x2="684.4" y2="526.2" stroke="#888" stroke-width="1.2"/>
<line x1="392.6" y1="519.0" x2="398.1" y2="519.0" stroke="#333" stroke-width="0.9"/>
<line x1="392.6" y1="512.1" x2="395.6" y2="512.1" stroke="#333" stroke-width="0.9"/>
<line x1="392.6" y1="505.1" x2="395.6" y2="505.1" stroke="#333" stroke-width="0.9"/>
<line x1="392.6" y1="498.2" x2="395.6" y2="498.2" stroke="#333" stroke-width="0.9"/>
<line x1="392.6" y1="491.2" x2="395.6" y2="491.2" stroke="#333" stroke-width="0.9"/>
<line x1="392.6" y1="484.3" x2="398.1" y2="484.3" stroke="#333" stroke-width="0.9"/>
<line x1="392.6" y1="477.4" x2="395.6" y2="477.4" stroke="#333" stroke-width="0.9"/>
<line x1="392.6" y1="470.4" x2="395.6" y2="470.4" stroke="#333" stroke-width="0.9"/>
<line x1="392.6" y1="463.5" x2="395.6" y2="463.5" stroke="#333" stroke-width="0.9"/>
<line x1="392.6" y1="456.5" x2="395.6" y2="456.5" stroke="#333" stroke-width="0.9"/>
<line x1="392.6" y1="449.6" x2="398.1" y2="449.6" stroke="#333" stroke-width="0.9"/>
<line x1="392.6" y1="442.7" x2="395.6" y2="442.7" stroke="#333" stroke-width="0.9"/>
<line x1="392.6" y1="435.7" x2="395.6" y2="435.7" stroke="#333" stroke-width="0.9"/>
<line x1="392.6" y1="428.8" x2="395.6" y2="428.8" stroke="#333" stroke-width="0.9"/>
<line x1="392.6" y1="421.8" x2="395.6" y2="421.8" stroke="#333" stroke-width="0.9"/>
<line x1="392.6" y1="414.9" x2="398.1" y2="414.9" stroke="#333" stroke-width="0.9"/>
<line x1="392.6" y1="408.0" x2="395.6" y2="408.0" stroke="#333" stroke-width="0.9"/>
<line x1="392.6" y1="401.0" x2="395.6" y2="401.0" stroke="#333" stroke-width="0.9"/>
<line x1="392.6" y1="394.1" x2="395.6" y2="394.1" stroke="#333" stroke-width="0.9"/>
<line x1="392.6" y1="387.1" x2="395.6" y2="387.1" stroke="#333" stroke-width="0.9"/>
<line x1="392.6" y1="380.2" x2="398.1" y2="380.2" stroke="#333" stroke-width="0.9"/>
<line x1="392.6" y1="373.3" x2="395.6" y2="373.3" stroke="#333" stroke-width="0.9"/>
<line x1="392.6" y1="366.3" x2="395.6" y2="366.3" stroke="#333" stroke-width="0.9"/>
<line x1="392.6" y1="359.4" x2="395.6" y2="359.4" stroke="#333" stroke-width="0.9"/>
<line x1="392.6" y1="352.4" x2="395.6" y2="352.4" stroke="#333" stroke-width="0.9"/>
<line x1="392.6" y1="345.5" x2="398.1" y2="345.5" stroke="#333" stroke-width="0.9"/>
<line x1="392.6" y1="338.6" x2="395.6" y2="338.6" stroke="#333" stroke-width="0.9"/>
<text x="389.9" y="522.6" font-size="10.20" text-anchor="end" fill="#111" font-family='"Liberation Sans", sans-serif' textLength="6.4" lengthAdjust="spacingAndGlyphs" >0</text>
<text x="389.9" y="487.9" font-size="10.20" text-anchor="end" fill="#111" font-family='"Liberation Sans", sans-serif' textLength="12.7" lengthAdjust="spacingAndGlyphs" >10</text>
<text x="389.9" y="453.2" font-size="10.20" text-anchor="end" fill="#111" font-family='"Liberation Sans", sans-serif' textLength="12.7" lengthAdjust="spacingAndGlyphs" >20</text>
<text x="389.9" y="418.5" font-size="10.20" text-anchor="end" fill="#111" font-family='"Liberation Sans", sans-serif' textLength="12.7" lengthAdjust="spacingAndGlyphs" >30</text>
<text x="389.9" y="383.8" font-size="10.20" text-anchor="end" fill="#111" font-family='"Liberation Sans", sans-serif' textLength="12.7" lengthAdjust="spacingAndGlyphs" >40</text>
<text x="389.9" y="349.1" font-size="10.20" text-anchor="end" fill="#111" font-family='"Liberation Sans", sans-serif' textLength="12.7" lengthAdjust="spacingAndGlyphs" >50</text>
<line x1="392.6" y1="526.2" x2="392.6" y2="520.7" stroke="#333" stroke-width="0.9"/>
<line x1="403.4" y1="526.2" x2="403.4" y2="523.6" stroke="#333" stroke-width="0.9"/>
<line x1="414.2" y1="526.2" x2="414.2" y2="523.6" stroke="#333" stroke-width="0.9"/>
<line x1="425.0" y1="526.2" x2="425.0" y2="523.6" stroke="#333" stroke-width="0.9"/>
<line x1="435.8" y1="526.2" x2="435.8" y2="523.6" stroke="#333" stroke-width="0.9"/>
<line x1="446.7" y1="526.2" x2="446.7" y2="520.7" stroke="#333" stroke-width="0.9"/>
<line x1="457.5" y1="526.2" x2="457.5" y2="523.6" stroke="#333" stroke-width="0.9"/>
<line x1="468.3" y1="526.2" x2="468.3" y2="523.6" stroke="#333" stroke-width="0.9"/>
<line x1="479.1" y1="526.2" x2="479.1" y2="523.6" stroke="#333" stroke-width="0.9"/>
<line x1="489.9" y1="526.2" x2="489.9" y2="523.6" stroke="#333" stroke-width="0.9"/>
<line x1="500.7" y1="526.2" x2="500.7" y2="520.7" stroke="#333" stroke-width="0.9"/>
<line x1="511.5" y1="526.2" x2="511.5" y2="523.6" stroke="#333" stroke-width="0.9"/>
<line x1="522.3" y1="526.2" x2="522.3" y2="523.6" stroke="#333" stroke-width="0.9"/>
<line x1="533.2" y1="526.2" x2="533.2" y2="523.6" stroke="#333" stroke-width="0.9"/>
<line x1="544.0" y1="526.2" x2="544.0" y2="523.6" stroke="#333" stroke-width="0.9"/>
<line x1="554.8" y1="526.2" x2="554.8" y2="520.7" stroke="#333" stroke-width="0.9"/>
<line x1="565.6" y1="526.2" x2="565.6" y2="523.6" stroke="#333" stroke-width="0.9"/>
<line x1="576.4" y1="526.2" x2="576.4" y2="523.6" stroke="#333" stroke-width="0.9"/>
<line x1="587.2" y1="526.2" x2="587.2" y2="523.6" stroke="#333" stroke-width="0.9"/>
<line x1="598.0" y1="526.2" x2="598.0" y2="523.6" stroke="#333" stroke-width="0.9"/>
<line x1="608.8" y1="526.2" x2="608.8" y2="520.7" stroke="#333" stroke-width="0.9"/>
<line x1="619.7" y1="526.2" x2="619.7" y2="523.6" stroke="#333" stroke-width="0.9"/>
<line x1="630.5" y1="526.2" x2="630.5" y2="523.6" stroke="#333" stroke-width="0.9"/>
<line x1="641.3" y1="526.2" x2="641.3" y2="523.6" stroke="#333" stroke-width="0.9"/>
<line x1="652.1" y1="526.2" x2="652.1" y2="523.6" stroke="#333" stroke-width="0.9"/>
<line x1="662.9" y1="526.2" x2="662.9" y2="520.7" stroke="#333" stroke-width="0.9"/>
<line x1="673.7" y1="526.2" x2="673.7" y2="523.6" stroke="#333" stroke-width="0.9"/>
<line x1="684.5" y1="526.2" x2="684.5" y2="523.6" stroke="#333" stroke-width="0.9"/>
<text x="392.6" y="537.0" font-size="10.20" text-anchor="middle" fill="#111" font-family='"Liberation Sans", sans-serif' textLength="19.1" lengthAdjust="spacingAndGlyphs" >450</text>
<text x="446.7" y="537.0" font-size="10.20" text-anchor="middle" fill="#111" font-family='"Liberation Sans", sans-serif' textLength="19.1" lengthAdjust="spacingAndGlyphs" >500</text>
<text x="500.7" y="537.0" font-size="10.20" text-anchor="middle" fill="#111" font-family='"Liberation Sans", sans-serif' textLength="19.1" lengthAdjust="spacingAndGlyphs" >550</text>
<text x="554.8" y="537.0" font-size="10.20" text-anchor="middle" fill="#111" font-family='"Liberation Sans", sans-serif' textLength="19.1" lengthAdjust="spacingAndGlyphs" >600</text>
<text x="608.8" y="537.0" font-size="10.20" text-anchor="middle" fill="#111" font-family='"Liberation Sans", sans-serif' textLength="19.1" lengthAdjust="spacingAndGlyphs" >650</text>
<text x="662.9" y="537.0" font-size="10.20" text-anchor="middle" fill="#111" font-family='"Liberation Sans", sans-serif' textLength="19.1" lengthAdjust="spacingAndGlyphs" >700</text>
<text x="520.2" y="548.6" font-size="10.91" text-anchor="start" fill="#111" font-family='"Liberation Sans", sans-serif' textLength="6.0" lengthAdjust="spacingAndGlyphs" font-style="italic">λ</text>
<text x="530.8" y="548.6" font-size="10.91" text-anchor="start" fill="#111" font-family='"Liberation Sans", sans-serif' textLength="25.2" lengthAdjust="spacingAndGlyphs" >(nm)</text>
<g transform="translate(373.2,430.5) rotate(-90)"><text x="0.0" y="0.0" font-size="10.91" text-anchor="middle" fill="#111" font-family='"Liberation Sans", sans-serif' textLength="43.8" lengthAdjust="spacingAndGlyphs" >EQE (%)</text></g>
<rect x="397.9" y="406.6" width="55.4" height="117.5" rx="2" fill="#fff" fill-opacity="0.8" stroke="#ddd" stroke-width="0.8"/>
<text x="403.0" y="418.8" font-size="10.20" text-anchor="start" fill="#111" font-family='"Liberation Sans", sans-serif' textLength="43.8" lengthAdjust="spacingAndGlyphs" >Δt (min.)</text>
<line x1="400.9" y1="429.3" x2="420.8" y2="429.3" stroke="#9cc3e6" stroke-width="1.4"/>
<text x="428.4" y="432.9" font-size="10.20" text-anchor="start" fill="#111" font-family='"Liberation Sans", sans-serif' textLength="15.9" lengthAdjust="spacingAndGlyphs" >1.0</text>
<line x1="400.9" y1="443.5" x2="420.8" y2="443.5" stroke="#ffc48f" stroke-width="1.4"/>
<text x="428.4" y="447.1" font-size="10.20" text-anchor="start" fill="#111" font-family='"Liberation Sans", sans-serif' textLength="15.9" lengthAdjust="spacingAndGlyphs" >3.4</text>
<line x1="400.9" y1="457.6" x2="420.8" y2="457.6" stroke="#8fd08f" stroke-width="1.4"/>
<text x="428.4" y="461.2" font-size="10.20" text-anchor="start" fill="#111" font-family='"Liberation Sans", sans-serif' textLength="15.9" lengthAdjust="spacingAndGlyphs" >5.8</text>
<line x1="400.9" y1="471.8" x2="420.8" y2="471.8" stroke="#ec8f8f" stroke-width="1.4"/>
<text x="428.4" y="475.4" font-size="10.20" text-anchor="start" fill="#111" font-family='"Liberation Sans", sans-serif' textLength="15.9" lengthAdjust="spacingAndGlyphs" >8.3</text>
<line x1="400.9" y1="485.9" x2="420.8" y2="485.9" stroke="#c5aee0" stroke-width="1.4"/>
<text x="428.4" y="489.5" font-size="10.20" text-anchor="start" fill="#111" font-family='"Liberation Sans", sans-serif' textLength="22.3" lengthAdjust="spacingAndGlyphs" >10.7</text>
<line x1="400.9" y1="500.1" x2="420.8" y2="500.1" stroke="#c5a8a0" stroke-width="1.4"/>
<text x="428.4" y="503.7" font-size="10.20" text-anchor="start" fill="#111" font-family='"Liberation Sans", sans-serif' textLength="22.3" lengthAdjust="spacingAndGlyphs" >15.5</text>
<line x1="400.9" y1="514.3" x2="420.8" y2="514.3" stroke="#f2bfe3" stroke-width="1.4"/>
<text x="428.4" y="517.9" font-size="10.20" text-anchor="start" fill="#111" font-family='"Liberation Sans", sans-serif' textLength="22.3" lengthAdjust="spacingAndGlyphs" >30.0</text>
<rect x="553.2" y="376.5" width="3.1" height="129" fill="#7f7f7f"/>
<polygon points="549.8,505 559.9,505 554.7,518.8" fill="#7f7f7f"/>
<text x="510.0" y="370.1" font-size="11.12" text-anchor="start" fill="#111" font-family='"Liberation Sans", sans-serif' textLength="81.4" lengthAdjust="spacingAndGlyphs" >DASA recovery</text>
<text x="34.5" y="19.6" font-size="37" font-weight="bold" fill="#000" font-family='"Liberation Sans", sans-serif'>a</text><text x="-2.4" y="348.3" font-size="37" font-weight="bold" fill="#000" font-family='"Liberation Sans", sans-serif'>b</text><text x="349.2" y="343" font-size="37" font-weight="bold" fill="#000" font-family='"Liberation Sans", sans-serif' textLength="22.2" lengthAdjust="spacingAndGlyphs">c</text>
</svg>
</body></html>
